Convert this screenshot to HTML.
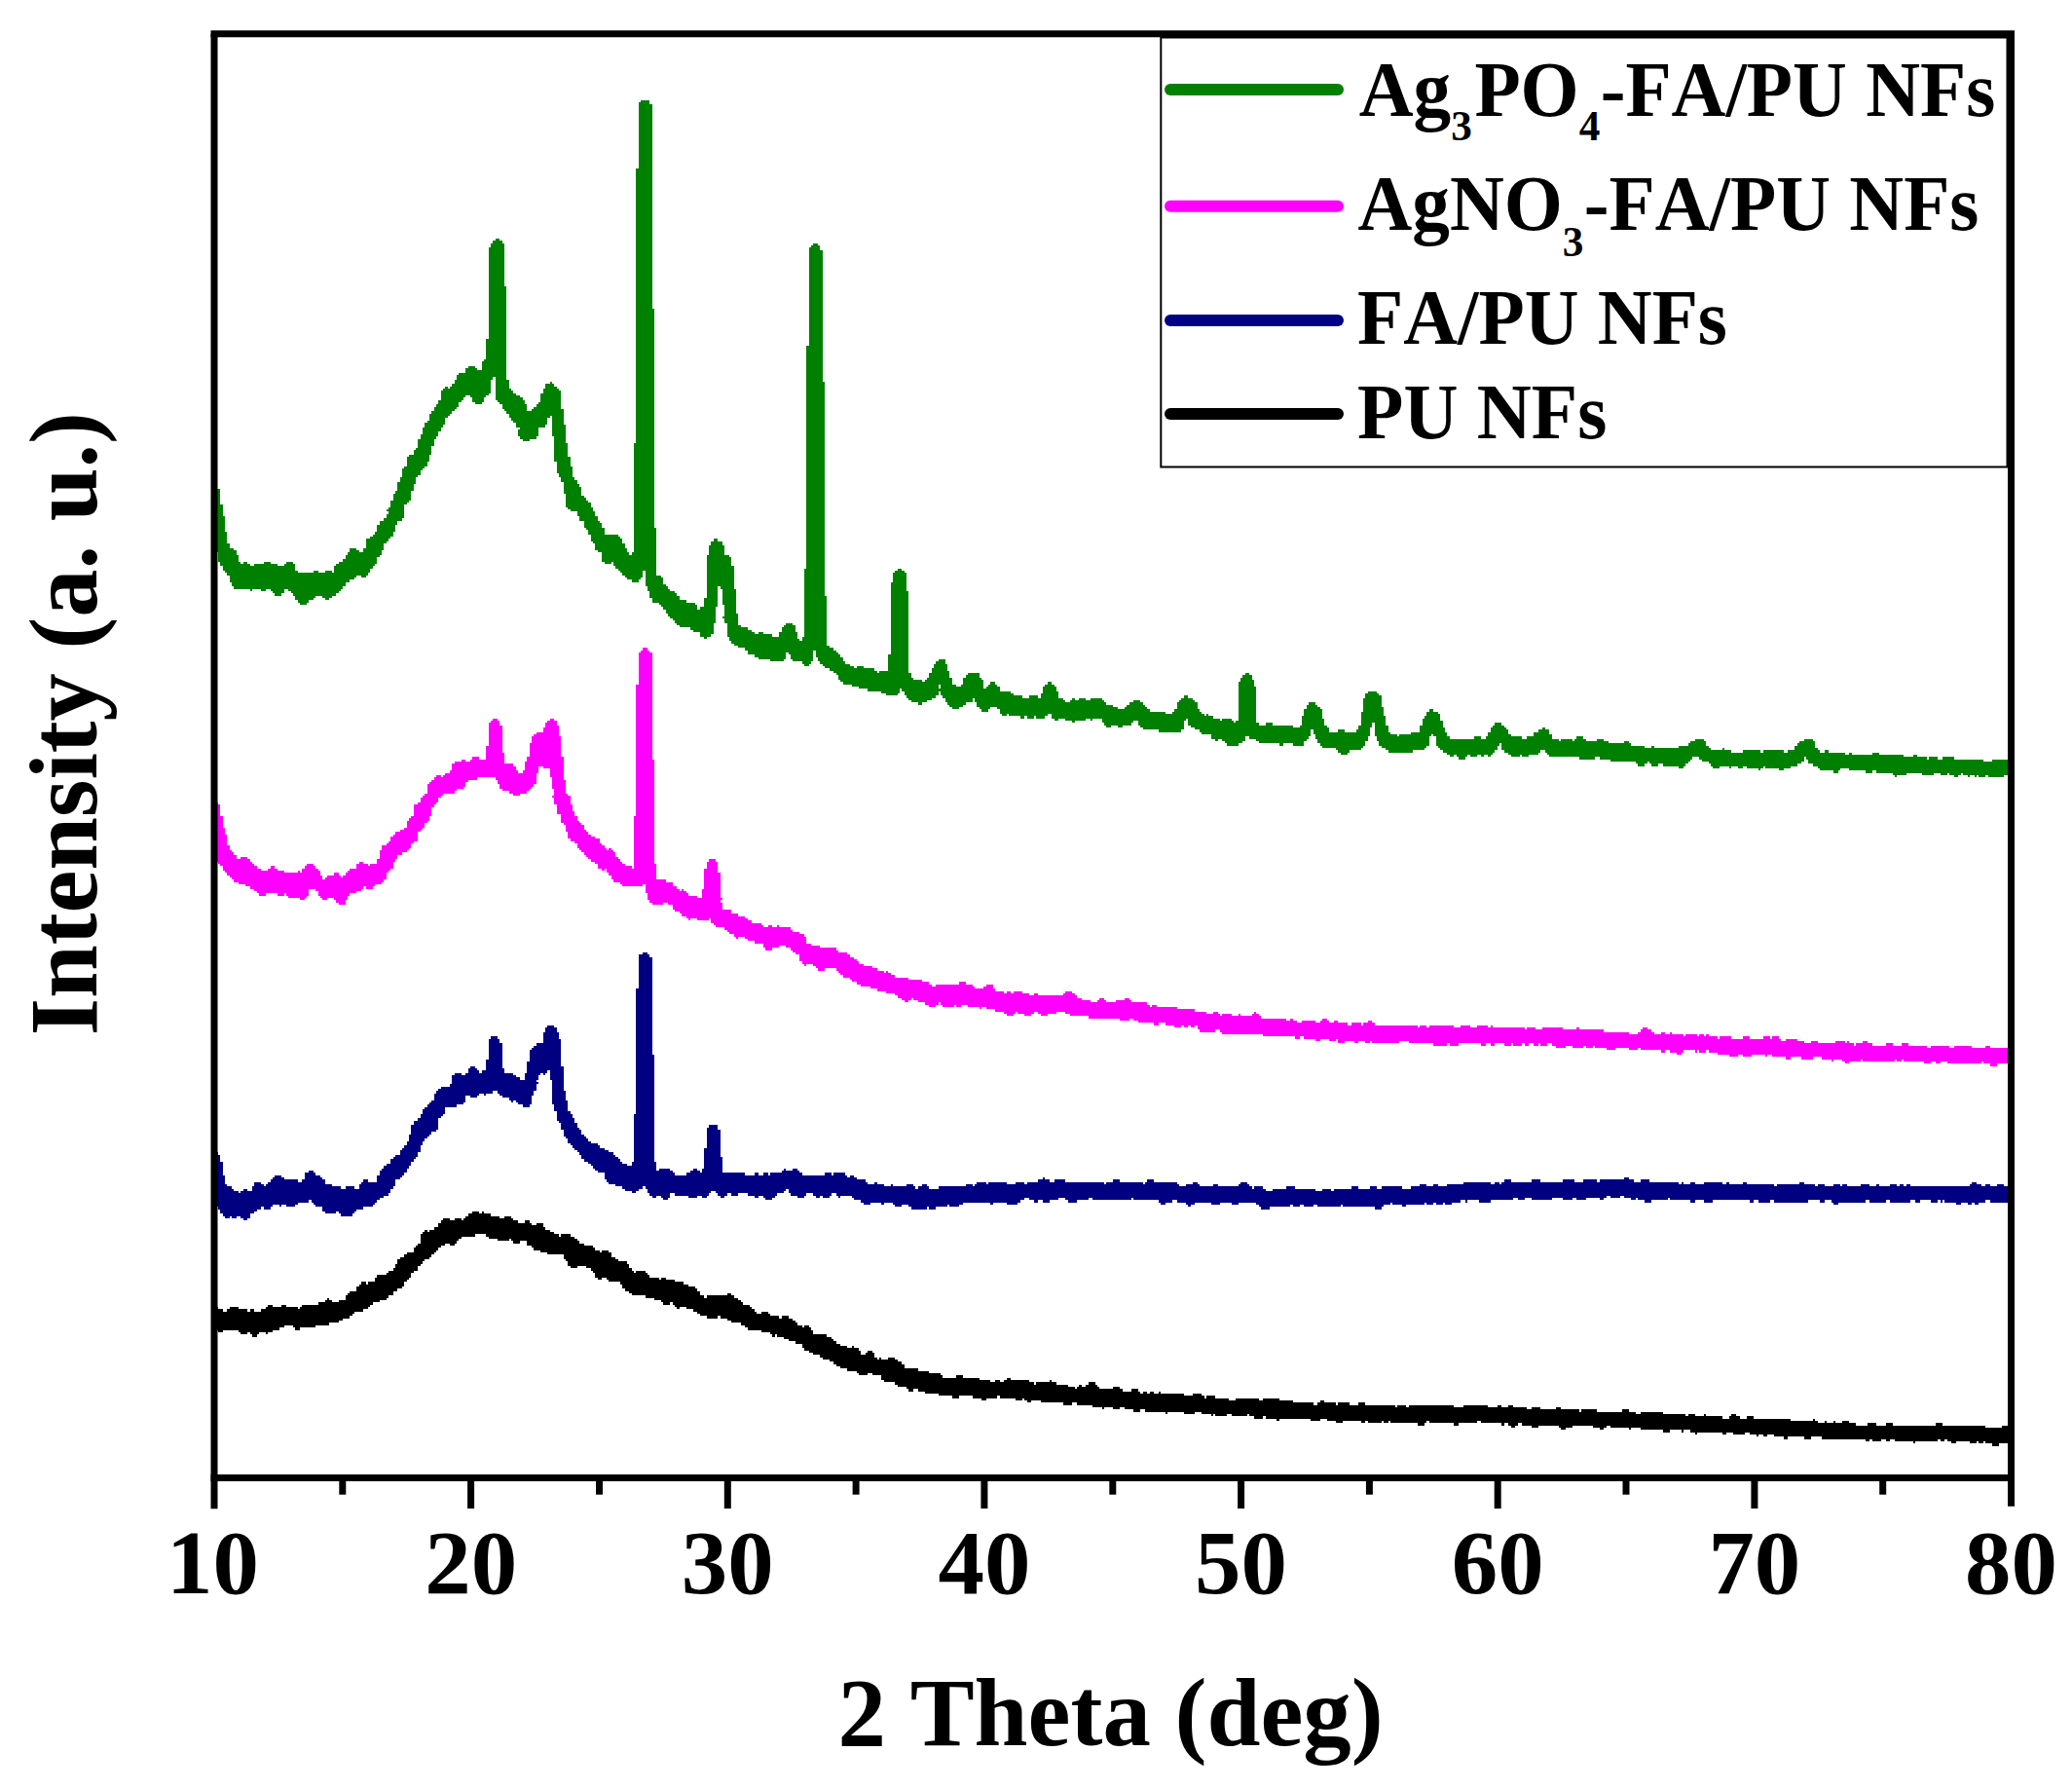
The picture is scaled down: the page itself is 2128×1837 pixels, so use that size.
<!DOCTYPE html>
<html lang="en">
<head>
<meta charset="utf-8">
<title>XRD patterns</title>
<style>
html,body{margin:0;padding:0;background:#fff;}
body{width:2128px;height:1837px;overflow:hidden;}
svg{display:block;}
text{font-family:"Liberation Serif","Times New Roman",serif;font-weight:bold;fill:#000;font-kerning:none;}
</style>
</head>
<body>
<svg width="2128" height="1837" viewBox="0 0 2128 1837">
<rect x="0" y="0" width="2128" height="1837" fill="#ffffff"/>
<defs><clipPath id="plot"><rect x="220.0" y="34.7" width="1845.5" height="1482.8"/></clipPath></defs>
<g clip-path="url(#plot)">
<path shape-rendering="crispEdges" fill="#000000" d="M212.33 1344.49H214.67V1363.16H212.33zM214.67 1342.15H217.00V1363.16H214.67zM217.00 1339.82H219.33V1363.16H217.00zM219.33 1339.82H221.67V1363.16H219.33zM221.67 1342.15H224.00V1365.50H221.67zM224.00 1344.49H226.33V1367.83H224.00zM226.33 1344.49H228.67V1367.83H226.33zM228.67 1346.82H231.00V1365.50H228.67zM231.00 1346.82H233.33V1365.50H231.00zM233.33 1344.49H235.67V1365.50H233.33zM235.67 1342.15H238.00V1365.50H235.67zM238.00 1342.15H240.33V1365.50H238.00zM240.33 1342.15H242.67V1365.50H240.33zM242.67 1342.15H245.00V1365.50H242.67zM245.00 1344.49H247.33V1367.83H245.00zM247.33 1344.49H249.67V1370.16H247.33zM249.67 1344.49H252.00V1370.16H249.67zM252.00 1344.49H254.33V1370.16H252.00zM254.33 1346.82H256.67V1367.83H254.33zM256.67 1344.49H259.00V1370.16H256.67zM259.00 1344.49H261.33V1372.50H259.00zM261.33 1346.82H263.67V1372.50H261.33zM263.67 1346.82H266.00V1370.16H263.67zM266.00 1346.82H268.33V1367.83H266.00zM268.33 1344.49H270.67V1367.83H268.33zM270.67 1344.49H273.00V1367.83H270.67zM273.00 1342.15H275.33V1370.16H273.00zM275.33 1339.82H277.67V1367.83H275.33zM277.67 1339.82H280.00V1367.83H277.67zM280.00 1342.15H282.33V1365.50H280.00zM282.33 1342.15H284.67V1365.50H282.33zM284.67 1342.15H287.00V1365.50H284.67zM287.00 1342.15H289.33V1363.16H287.00zM289.33 1339.82H291.67V1363.16H289.33zM291.67 1339.82H294.00V1360.83H291.67zM294.00 1342.15H296.33V1360.83H294.00zM296.33 1342.15H298.67V1360.83H296.33zM298.67 1342.15H301.00V1360.83H298.67zM301.00 1342.15H303.33V1363.16H301.00zM303.33 1342.15H305.67V1365.50H303.33zM305.67 1344.49H308.00V1365.50H305.67zM308.00 1342.15H310.33V1363.16H308.00zM310.33 1339.82H312.67V1363.16H310.33zM312.67 1339.82H315.00V1363.16H312.67zM315.00 1339.82H317.33V1363.16H315.00zM317.33 1339.82H319.67V1363.16H317.33zM319.67 1339.82H322.00V1363.16H319.67zM322.00 1339.82H324.33V1363.16H322.00zM324.33 1339.82H326.67V1360.83H324.33zM326.67 1337.49H329.00V1360.83H326.67zM329.00 1337.49H331.33V1360.83H329.00zM331.33 1337.49H333.67V1360.83H331.33zM333.67 1335.15H336.00V1360.83H333.67zM336.00 1332.82H338.33V1360.83H336.00zM338.33 1335.15H340.67V1358.49H338.33zM340.67 1337.49H343.00V1358.49H340.67zM343.00 1337.49H345.33V1358.49H343.00zM345.33 1337.49H347.67V1358.49H345.33zM347.67 1335.15H350.00V1356.16H347.67zM350.00 1335.15H352.33V1356.16H350.00zM352.33 1335.15H354.67V1353.82H352.33zM354.67 1330.48H357.00V1353.82H354.67zM357.00 1328.15H359.33V1353.82H357.00zM359.33 1325.81H361.67V1351.49H359.33zM361.67 1325.81H364.00V1349.16H361.67zM364.00 1325.81H366.33V1346.82H364.00zM366.33 1321.15H368.67V1346.82H366.33zM368.67 1318.81H371.00V1346.82H368.67zM371.00 1316.48H373.33V1346.82H371.00zM373.33 1316.48H375.67V1344.49H373.33zM375.67 1318.81H378.00V1344.49H375.67zM378.00 1316.48H380.33V1342.15H378.00zM380.33 1316.48H382.67V1339.82H380.33zM382.67 1316.48H385.00V1337.49H382.67zM385.00 1311.81H387.33V1337.49H385.00zM387.33 1309.48H389.67V1337.49H387.33zM389.67 1309.48H392.00V1335.15H389.67zM392.00 1309.48H394.33V1335.15H392.00zM394.33 1309.48H396.67V1335.15H394.33zM396.67 1307.14H399.00V1332.82H396.67zM399.00 1304.81H401.33V1330.48H399.00zM401.33 1304.81H403.67V1330.48H401.33zM403.67 1302.47H406.00V1325.81H403.67zM406.00 1297.80H408.33V1325.81H406.00zM408.33 1293.14H410.67V1323.48H408.33zM410.67 1290.80H413.00V1323.48H410.67zM413.00 1290.80H415.33V1321.15H413.00zM415.33 1288.47H417.67V1316.48H415.33zM417.67 1286.13H420.00V1314.14H417.67zM420.00 1286.13H422.33V1311.81H420.00zM422.33 1286.13H424.67V1307.14H422.33zM424.67 1281.47H427.00V1304.81H424.67zM427.00 1279.13H429.33V1304.81H427.00zM429.33 1276.80H431.67V1300.14H429.33zM431.67 1267.46H434.00V1297.80H431.67zM434.00 1265.13H436.33V1295.47H434.00zM436.33 1262.79H438.67V1293.14H436.33zM438.67 1265.13H441.00V1293.14H438.67zM441.00 1262.79H443.33V1290.80H441.00zM443.33 1262.79H445.67V1288.47H443.33zM445.67 1260.46H448.00V1286.13H445.67zM448.00 1260.46H450.33V1283.80H448.00zM450.33 1255.79H452.67V1281.47H450.33zM452.67 1253.45H455.00V1279.13H452.67zM455.00 1251.12H457.33V1279.13H455.00zM457.33 1251.12H459.67V1276.80H457.33zM459.67 1251.12H462.00V1276.80H459.67zM462.00 1253.45H464.33V1279.13H462.00zM464.33 1253.45H466.67V1279.13H464.33zM466.67 1251.12H469.00V1276.80H466.67zM469.00 1251.12H471.33V1274.46H469.00zM471.33 1251.12H473.67V1272.13H471.33zM473.67 1253.45H476.00V1269.79H473.67zM476.00 1251.12H478.33V1269.79H476.00zM478.33 1248.79H480.67V1269.79H478.33zM480.67 1246.45H483.00V1269.79H480.67zM483.00 1246.45H485.33V1269.79H483.00zM485.33 1244.12H487.67V1269.79H485.33zM487.67 1244.12H490.00V1267.46H487.67zM490.00 1244.12H492.33V1267.46H490.00zM492.33 1246.45H494.67V1267.46H492.33zM494.67 1244.12H497.00V1267.46H494.67zM497.00 1246.45H499.33V1267.46H497.00zM499.33 1246.45H501.67V1269.79H499.33zM501.67 1246.45H504.00V1272.13H501.67zM504.00 1248.79H506.33V1272.13H504.00zM506.33 1248.79H508.67V1272.13H506.33zM508.67 1248.79H511.00V1272.13H508.67zM511.00 1248.79H513.33V1274.46H511.00zM513.33 1251.12H515.67V1274.46H513.33zM515.67 1251.12H518.00V1274.46H515.67zM518.00 1248.79H520.33V1274.46H518.00zM520.33 1248.79H522.67V1274.46H520.33zM522.67 1248.79H525.00V1272.13H522.67zM525.00 1251.12H527.33V1274.46H525.00zM527.33 1253.45H529.67V1276.80H527.33zM529.67 1253.45H532.00V1276.80H529.67zM532.00 1255.79H534.33V1276.80H532.00zM534.33 1255.79H536.67V1274.46H534.33zM536.67 1255.79H539.00V1274.46H536.67zM539.00 1253.45H541.33V1274.46H539.00zM541.33 1253.45H543.67V1279.13H541.33zM543.67 1255.79H546.00V1279.13H543.67zM546.00 1258.12H548.33V1281.47H546.00zM548.33 1258.12H550.67V1283.80H548.33zM550.67 1255.79H553.00V1283.80H550.67zM553.00 1255.79H555.33V1283.80H553.00zM555.33 1255.79H557.67V1286.13H555.33zM557.67 1260.46H560.00V1286.13H557.67zM560.00 1262.79H562.33V1286.13H560.00zM562.33 1262.79H564.67V1288.47H562.33zM564.67 1265.13H567.00V1288.47H564.67zM567.00 1265.13H569.33V1288.47H567.00zM569.33 1267.46H571.67V1288.47H569.33zM571.67 1267.46H574.00V1288.47H571.67zM574.00 1269.79H576.33V1288.47H574.00zM576.33 1267.46H578.67V1288.47H576.33zM578.67 1267.46H581.00V1293.14H578.67zM581.00 1267.46H583.33V1295.47H581.00zM583.33 1267.46H585.67V1300.14H583.33zM585.67 1269.79H588.00V1302.47H585.67zM588.00 1269.79H590.33V1302.47H588.00zM590.33 1272.13H592.67V1302.47H590.33zM592.67 1274.46H595.00V1300.14H592.67zM595.00 1276.80H597.33V1300.14H595.00zM597.33 1276.80H599.67V1300.14H597.33zM599.67 1279.13H602.00V1300.14H599.67zM602.00 1279.13H604.33V1302.47H602.00zM604.33 1279.13H606.67V1302.47H604.33zM606.67 1279.13H609.00V1304.81H606.67zM609.00 1281.47H611.33V1307.14H609.00zM611.33 1283.80H613.67V1311.81H611.33zM613.67 1283.80H616.00V1314.14H613.67zM616.00 1286.13H618.33V1314.14H616.00zM618.33 1283.80H620.67V1311.81H618.33zM620.67 1283.80H623.00V1311.81H620.67zM623.00 1283.80H625.33V1314.14H623.00zM625.33 1286.13H627.67V1316.48H625.33zM627.67 1290.80H630.00V1316.48H627.67zM630.00 1290.80H632.33V1316.48H630.00zM632.33 1293.14H634.67V1316.48H632.33zM634.67 1295.47H637.00V1316.48H634.67zM637.00 1295.47H639.33V1318.81H637.00zM639.33 1295.47H641.67V1323.48H639.33zM641.67 1295.47H644.00V1325.81H641.67zM644.00 1297.80H646.33V1325.81H644.00zM646.33 1302.47H648.67V1328.15H646.33zM648.67 1304.81H651.00V1330.48H648.67zM651.00 1307.14H653.33V1330.48H651.00zM653.33 1304.81H655.67V1330.48H653.33zM655.67 1304.81H658.00V1330.48H655.67zM658.00 1304.81H660.33V1330.48H658.00zM660.33 1304.81H662.67V1330.48H660.33zM662.67 1307.14H665.00V1332.82H662.67zM665.00 1309.48H667.33V1332.82H665.00zM667.33 1311.81H669.67V1332.82H667.33zM669.67 1311.81H672.00V1332.82H669.67zM672.00 1311.81H674.33V1335.15H672.00zM674.33 1311.81H676.67V1335.15H674.33zM676.67 1314.14H679.00V1335.15H676.67zM679.00 1311.81H681.33V1337.49H679.00zM681.33 1311.81H683.67V1339.82H681.33zM683.67 1314.14H686.00V1339.82H683.67zM686.00 1314.14H688.33V1339.82H686.00zM688.33 1314.14H690.67V1337.49H688.33zM690.67 1314.14H693.00V1339.82H690.67zM693.00 1316.48H695.33V1342.15H693.00zM695.33 1316.48H697.67V1344.49H695.33zM697.67 1316.48H700.00V1342.15H697.67zM700.00 1316.48H702.33V1342.15H700.00zM702.33 1318.81H704.67V1342.15H702.33zM704.67 1318.81H707.00V1344.49H704.67zM707.00 1321.15H709.33V1344.49H707.00zM709.33 1321.15H711.67V1344.49H709.33zM711.67 1321.15H714.00V1346.82H711.67zM714.00 1323.48H716.33V1346.82H714.00zM716.33 1325.81H718.67V1349.16H716.33zM718.67 1330.48H721.00V1351.49H718.67zM721.00 1330.48H723.33V1351.49H721.00zM723.33 1332.82H725.67V1351.49H723.33zM725.67 1330.48H728.00V1353.82H725.67zM728.00 1330.48H730.33V1353.82H728.00zM730.33 1330.48H732.67V1353.82H730.33zM732.67 1330.48H735.00V1353.82H732.67zM735.00 1330.48H737.33V1353.82H735.00zM737.33 1330.48H739.67V1351.49H737.33zM739.67 1330.48H742.00V1353.82H739.67zM742.00 1330.48H744.33V1353.82H742.00zM744.33 1330.48H746.67V1353.82H744.33zM746.67 1328.15H749.00V1356.16H746.67zM749.00 1328.15H751.33V1356.16H749.00zM751.33 1330.48H753.67V1358.49H751.33zM753.67 1332.82H756.00V1358.49H753.67zM756.00 1332.82H758.33V1358.49H756.00zM758.33 1335.15H760.67V1358.49H758.33zM760.67 1337.49H763.00V1360.83H760.67zM763.00 1339.82H765.33V1360.83H763.00zM765.33 1339.82H767.67V1363.16H765.33zM767.67 1339.82H770.00V1365.50H767.67zM770.00 1342.15H772.33V1365.50H770.00zM772.33 1344.49H774.67V1365.50H772.33zM774.67 1346.82H777.00V1365.50H774.67zM777.00 1349.16H779.33V1365.50H777.00zM779.33 1349.16H781.67V1365.50H779.33zM781.67 1346.82H784.00V1367.83H781.67zM784.00 1346.82H786.33V1367.83H784.00zM786.33 1346.82H788.67V1367.83H786.33zM788.67 1349.16H791.00V1367.83H788.67zM791.00 1351.49H793.33V1370.16H791.00zM793.33 1351.49H795.67V1372.50H793.33zM795.67 1351.49H798.00V1370.16H795.67zM798.00 1351.49H800.33V1372.50H798.00zM800.33 1353.82H802.67V1372.50H800.33zM802.67 1351.49H805.00V1372.50H802.67zM805.00 1351.49H807.33V1374.83H805.00zM807.33 1351.49H809.67V1374.83H807.33zM809.67 1353.82H812.00V1377.17H809.67zM812.00 1353.82H814.33V1377.17H812.00zM814.33 1356.16H816.67V1377.17H814.33zM816.67 1358.49H819.00V1379.50H816.67zM819.00 1360.83H821.33V1379.50H819.00zM821.33 1360.83H823.67V1379.50H821.33zM823.67 1363.16H826.00V1384.17H823.67zM826.00 1360.83H828.33V1386.50H826.00zM828.33 1360.83H830.67V1386.50H828.33zM830.67 1363.16H833.00V1388.84H830.67zM833.00 1365.50H835.33V1388.84H833.00zM835.33 1370.16H837.67V1391.17H835.33zM837.67 1370.16H840.00V1391.17H837.67zM840.00 1370.16H842.33V1391.17H840.00zM842.33 1370.16H844.67V1393.51H842.33zM844.67 1370.16H847.00V1395.84H844.67zM847.00 1370.16H849.33V1395.84H847.00zM849.33 1372.50H851.67V1395.84H849.33zM851.67 1372.50H854.00V1398.17H851.67zM854.00 1374.83H856.33V1398.17H854.00zM856.33 1377.17H858.67V1400.51H856.33zM858.67 1379.50H861.00V1402.84H858.67zM861.00 1379.50H863.33V1402.84H861.00zM863.33 1381.83H865.67V1405.18H863.33zM865.67 1381.83H868.00V1405.18H865.67zM868.00 1381.83H870.33V1405.18H868.00zM870.33 1384.17H872.67V1407.51H870.33zM872.67 1384.17H875.00V1407.51H872.67zM875.00 1381.83H877.33V1407.51H875.00zM877.33 1384.17H879.67V1407.51H877.33zM879.67 1384.17H882.00V1409.84H879.67zM882.00 1386.50H884.33V1412.18H882.00zM884.33 1391.17H886.67V1412.18H884.33zM886.67 1391.17H889.00V1412.18H886.67zM889.00 1388.84H891.33V1412.18H889.00zM891.33 1386.50H893.67V1409.84H891.33zM893.67 1386.50H896.00V1409.84H893.67zM896.00 1388.84H898.33V1412.18H896.00zM898.33 1393.51H900.67V1412.18H898.33zM900.67 1395.84H903.00V1412.18H900.67zM903.00 1393.51H905.33V1412.18H903.00zM905.33 1395.84H907.67V1416.85H905.33zM907.67 1395.84H910.00V1419.18H907.67zM910.00 1395.84H912.33V1419.18H910.00zM912.33 1393.51H914.67V1419.18H912.33zM914.67 1393.51H917.00V1419.18H914.67zM917.00 1393.51H919.33V1419.18H917.00zM919.33 1395.84H921.67V1421.52H919.33zM921.67 1398.17H924.00V1423.85H921.67zM924.00 1398.17H926.33V1423.85H924.00zM926.33 1400.51H928.67V1423.85H926.33zM928.67 1405.18H931.00V1423.85H928.67zM931.00 1405.18H933.33V1426.18H931.00zM933.33 1405.18H935.67V1428.52H933.33zM935.67 1405.18H938.00V1428.52H935.67zM938.00 1405.18H940.33V1426.18H938.00zM940.33 1405.18H942.67V1426.18H940.33zM942.67 1407.51H945.00V1428.52H942.67zM945.00 1407.51H947.33V1428.52H945.00zM947.33 1407.51H949.67V1428.52H947.33zM949.67 1407.51H952.00V1430.85H949.67zM952.00 1407.51H954.33V1430.85H952.00zM954.33 1409.84H956.67V1430.85H954.33zM956.67 1409.84H959.00V1430.85H956.67zM959.00 1409.84H961.33V1430.85H959.00zM961.33 1409.84H963.67V1430.85H961.33zM963.67 1409.84H966.00V1433.19H963.67zM966.00 1412.18H968.33V1433.19H966.00zM968.33 1414.51H970.67V1433.19H968.33zM970.67 1414.51H973.00V1433.19H970.67zM973.00 1414.51H975.33V1433.19H973.00zM975.33 1414.51H977.67V1433.19H975.33zM977.67 1414.51H980.00V1435.52H977.67zM980.00 1414.51H982.33V1435.52H980.00zM982.33 1412.18H984.67V1435.52H982.33zM984.67 1412.18H987.00V1433.19H984.67zM987.00 1412.18H989.33V1433.19H987.00zM989.33 1414.51H991.67V1433.19H989.33zM991.67 1414.51H994.00V1433.19H991.67zM994.00 1414.51H996.33V1433.19H994.00zM996.33 1414.51H998.67V1433.19H996.33zM998.67 1414.51H1001.00V1435.52H998.67zM1001.00 1414.51H1003.33V1435.52H1001.00zM1003.33 1414.51H1005.67V1435.52H1003.33zM1005.67 1416.85H1008.00V1435.52H1005.67zM1008.00 1416.85H1010.33V1437.86H1008.00zM1010.33 1416.85H1012.67V1437.86H1010.33zM1012.67 1416.85H1015.00V1435.52H1012.67zM1015.00 1416.85H1017.33V1435.52H1015.00zM1017.33 1419.18H1019.67V1435.52H1017.33zM1019.67 1419.18H1022.00V1435.52H1019.67zM1022.00 1416.85H1024.33V1435.52H1022.00zM1024.33 1416.85H1026.67V1433.19H1024.33zM1026.67 1419.18H1029.00V1435.52H1026.67zM1029.00 1419.18H1031.33V1435.52H1029.00zM1031.33 1416.85H1033.67V1435.52H1031.33zM1033.67 1414.51H1036.00V1435.52H1033.67zM1036.00 1414.51H1038.33V1435.52H1036.00zM1038.33 1416.85H1040.67V1435.52H1038.33zM1040.67 1416.85H1043.00V1435.52H1040.67zM1043.00 1416.85H1045.33V1437.86H1043.00zM1045.33 1416.85H1047.67V1437.86H1045.33zM1047.67 1416.85H1050.00V1437.86H1047.67zM1050.00 1416.85H1052.33V1435.52H1050.00zM1052.33 1416.85H1054.67V1437.86H1052.33zM1054.67 1416.85H1057.00V1440.19H1054.67zM1057.00 1419.18H1059.33V1440.19H1057.00zM1059.33 1419.18H1061.67V1437.86H1059.33zM1061.67 1421.52H1064.00V1437.86H1061.67zM1064.00 1419.18H1066.33V1437.86H1064.00zM1066.33 1419.18H1068.67V1437.86H1066.33zM1068.67 1419.18H1071.00V1440.19H1068.67zM1071.00 1419.18H1073.33V1440.19H1071.00zM1073.33 1419.18H1075.67V1440.19H1073.33zM1075.67 1419.18H1078.00V1440.19H1075.67zM1078.00 1416.85H1080.33V1440.19H1078.00zM1080.33 1419.18H1082.67V1440.19H1080.33zM1082.67 1419.18H1085.00V1440.19H1082.67zM1085.00 1421.52H1087.33V1440.19H1085.00zM1087.33 1421.52H1089.67V1440.19H1087.33zM1089.67 1421.52H1092.00V1440.19H1089.67zM1092.00 1421.52H1094.33V1442.52H1092.00zM1094.33 1421.52H1096.67V1442.52H1094.33zM1096.67 1423.85H1099.00V1442.52H1096.67zM1099.00 1423.85H1101.33V1442.52H1099.00zM1101.33 1423.85H1103.67V1440.19H1101.33zM1103.67 1426.18H1106.00V1440.19H1103.67zM1106.00 1423.85H1108.33V1442.52H1106.00zM1108.33 1421.52H1110.67V1442.52H1108.33zM1110.67 1423.85H1113.00V1442.52H1110.67zM1113.00 1423.85H1115.33V1442.52H1113.00zM1115.33 1421.52H1117.67V1442.52H1115.33zM1117.67 1419.18H1120.00V1442.52H1117.67zM1120.00 1419.18H1122.33V1442.52H1120.00zM1122.33 1419.18H1124.67V1444.86H1122.33zM1124.67 1421.52H1127.00V1444.86H1124.67zM1127.00 1423.85H1129.33V1444.86H1127.00zM1129.33 1426.18H1131.67V1444.86H1129.33zM1131.67 1426.18H1134.00V1447.19H1131.67zM1134.00 1426.18H1136.33V1444.86H1134.00zM1136.33 1426.18H1138.67V1444.86H1136.33zM1138.67 1426.18H1141.00V1444.86H1138.67zM1141.00 1426.18H1143.33V1444.86H1141.00zM1143.33 1423.85H1145.67V1447.19H1143.33zM1145.67 1423.85H1148.00V1447.19H1145.67zM1148.00 1423.85H1150.33V1447.19H1148.00zM1150.33 1426.18H1152.67V1444.86H1150.33zM1152.67 1428.52H1155.00V1444.86H1152.67zM1155.00 1428.52H1157.33V1447.19H1155.00zM1157.33 1428.52H1159.67V1447.19H1157.33zM1159.67 1428.52H1162.00V1447.19H1159.67zM1162.00 1426.18H1164.33V1447.19H1162.00zM1164.33 1426.18H1166.67V1449.53H1164.33zM1166.67 1426.18H1169.00V1449.53H1166.67zM1169.00 1428.52H1171.33V1449.53H1169.00zM1171.33 1430.85H1173.67V1447.19H1171.33zM1173.67 1428.52H1176.00V1447.19H1173.67zM1176.00 1428.52H1178.33V1449.53H1176.00zM1178.33 1430.85H1180.67V1449.53H1178.33zM1180.67 1428.52H1183.00V1449.53H1180.67zM1183.00 1428.52H1185.33V1449.53H1183.00zM1185.33 1430.85H1187.67V1449.53H1185.33zM1187.67 1430.85H1190.00V1449.53H1187.67zM1190.00 1428.52H1192.33V1449.53H1190.00zM1192.33 1430.85H1194.67V1449.53H1192.33zM1194.67 1430.85H1197.00V1449.53H1194.67zM1197.00 1430.85H1199.33V1451.86H1197.00zM1199.33 1430.85H1201.67V1449.53H1199.33zM1201.67 1430.85H1204.00V1449.53H1201.67zM1204.00 1430.85H1206.33V1449.53H1204.00zM1206.33 1430.85H1208.67V1449.53H1206.33zM1208.67 1430.85H1211.00V1449.53H1208.67zM1211.00 1430.85H1213.33V1449.53H1211.00zM1213.33 1430.85H1215.67V1449.53H1213.33zM1215.67 1433.19H1218.00V1451.86H1215.67zM1218.00 1433.19H1220.33V1451.86H1218.00zM1220.33 1433.19H1222.67V1451.86H1220.33zM1222.67 1433.19H1225.00V1451.86H1222.67zM1225.00 1430.85H1227.33V1451.86H1225.00zM1227.33 1430.85H1229.67V1449.53H1227.33zM1229.67 1430.85H1232.00V1449.53H1229.67zM1232.00 1430.85H1234.33V1449.53H1232.00zM1234.33 1433.19H1236.67V1451.86H1234.33zM1236.67 1435.52H1239.00V1451.86H1236.67zM1239.00 1433.19H1241.33V1451.86H1239.00zM1241.33 1433.19H1243.67V1451.86H1241.33zM1243.67 1433.19H1246.00V1454.19H1243.67zM1246.00 1433.19H1248.33V1451.86H1246.00zM1248.33 1435.52H1250.67V1454.19H1248.33zM1250.67 1435.52H1253.00V1454.19H1250.67zM1253.00 1435.52H1255.33V1454.19H1253.00zM1255.33 1435.52H1257.67V1454.19H1255.33zM1257.67 1435.52H1260.00V1454.19H1257.67zM1260.00 1435.52H1262.33V1451.86H1260.00zM1262.33 1437.86H1264.67V1451.86H1262.33zM1264.67 1437.86H1267.00V1454.19H1264.67zM1267.00 1437.86H1269.33V1454.19H1267.00zM1269.33 1435.52H1271.67V1454.19H1269.33zM1271.67 1435.52H1274.00V1454.19H1271.67zM1274.00 1435.52H1276.33V1454.19H1274.00zM1276.33 1435.52H1278.67V1454.19H1276.33zM1278.67 1435.52H1281.00V1454.19H1278.67zM1281.00 1435.52H1283.33V1451.86H1281.00zM1283.33 1435.52H1285.67V1454.19H1283.33zM1285.67 1435.52H1288.00V1454.19H1285.67zM1288.00 1435.52H1290.33V1456.53H1288.00zM1290.33 1435.52H1292.67V1456.53H1290.33zM1292.67 1437.86H1295.00V1456.53H1292.67zM1295.00 1437.86H1297.33V1456.53H1295.00zM1297.33 1435.52H1299.67V1454.19H1297.33zM1299.67 1435.52H1302.00V1456.53H1299.67zM1302.00 1435.52H1304.33V1456.53H1302.00zM1304.33 1435.52H1306.67V1456.53H1304.33zM1306.67 1435.52H1309.00V1456.53H1306.67zM1309.00 1435.52H1311.33V1456.53H1309.00zM1311.33 1435.52H1313.67V1458.86H1311.33zM1313.67 1437.86H1316.00V1456.53H1313.67zM1316.00 1437.86H1318.33V1456.53H1316.00zM1318.33 1437.86H1320.67V1456.53H1318.33zM1320.67 1437.86H1323.00V1456.53H1320.67zM1323.00 1437.86H1325.33V1456.53H1323.00zM1325.33 1437.86H1327.67V1456.53H1325.33zM1327.67 1440.19H1330.00V1456.53H1327.67zM1330.00 1440.19H1332.33V1456.53H1330.00zM1332.33 1440.19H1334.67V1456.53H1332.33zM1334.67 1440.19H1337.00V1456.53H1334.67zM1337.00 1440.19H1339.33V1456.53H1337.00zM1339.33 1440.19H1341.67V1456.53H1339.33zM1341.67 1440.19H1344.00V1456.53H1341.67zM1344.00 1440.19H1346.33V1456.53H1344.00zM1346.33 1440.19H1348.67V1458.86H1346.33zM1348.67 1442.52H1351.00V1458.86H1348.67zM1351.00 1442.52H1353.33V1458.86H1351.00zM1353.33 1440.19H1355.67V1458.86H1353.33zM1355.67 1437.86H1358.00V1456.53H1355.67zM1358.00 1437.86H1360.33V1456.53H1358.00zM1360.33 1440.19H1362.67V1456.53H1360.33zM1362.67 1440.19H1365.00V1458.86H1362.67zM1365.00 1440.19H1367.33V1458.86H1365.00zM1367.33 1440.19H1369.67V1458.86H1367.33zM1369.67 1440.19H1372.00V1458.86H1369.67zM1372.00 1442.52H1374.33V1461.20H1372.00zM1374.33 1440.19H1376.67V1461.20H1374.33zM1376.67 1440.19H1379.00V1461.20H1376.67zM1379.00 1440.19H1381.33V1458.86H1379.00zM1381.33 1440.19H1383.67V1458.86H1381.33zM1383.67 1440.19H1386.00V1458.86H1383.67zM1386.00 1442.52H1388.33V1458.86H1386.00zM1388.33 1442.52H1390.67V1458.86H1388.33zM1390.67 1442.52H1393.00V1458.86H1390.67zM1393.00 1442.52H1395.33V1458.86H1393.00zM1395.33 1440.19H1397.67V1458.86H1395.33zM1397.67 1440.19H1400.00V1461.20H1397.67zM1400.00 1440.19H1402.33V1461.20H1400.00zM1402.33 1442.52H1404.67V1458.86H1402.33zM1404.67 1442.52H1407.00V1461.20H1404.67zM1407.00 1442.52H1409.33V1461.20H1407.00zM1409.33 1442.52H1411.67V1461.20H1409.33zM1411.67 1442.52H1414.00V1461.20H1411.67zM1414.00 1442.52H1416.33V1461.20H1414.00zM1416.33 1442.52H1418.67V1461.20H1416.33zM1418.67 1442.52H1421.00V1458.86H1418.67zM1421.00 1442.52H1423.33V1461.20H1421.00zM1423.33 1442.52H1425.67V1461.20H1423.33zM1425.67 1442.52H1428.00V1458.86H1425.67zM1428.00 1442.52H1430.33V1461.20H1428.00zM1430.33 1442.52H1432.67V1461.20H1430.33zM1432.67 1444.86H1435.00V1461.20H1432.67zM1435.00 1442.52H1437.33V1461.20H1435.00zM1437.33 1442.52H1439.67V1461.20H1437.33zM1439.67 1442.52H1442.00V1461.20H1439.67zM1442.00 1442.52H1444.33V1461.20H1442.00zM1444.33 1444.86H1446.67V1461.20H1444.33zM1446.67 1442.52H1449.00V1461.20H1446.67zM1449.00 1442.52H1451.33V1461.20H1449.00zM1451.33 1442.52H1453.67V1461.20H1451.33zM1453.67 1442.52H1456.00V1461.20H1453.67zM1456.00 1442.52H1458.33V1463.53H1456.00zM1458.33 1442.52H1460.67V1463.53H1458.33zM1460.67 1442.52H1463.00V1463.53H1460.67zM1463.00 1442.52H1465.33V1461.20H1463.00zM1465.33 1442.52H1467.67V1458.86H1465.33zM1467.67 1442.52H1470.00V1461.20H1467.67zM1470.00 1442.52H1472.33V1461.20H1470.00zM1472.33 1442.52H1474.67V1461.20H1472.33zM1474.67 1442.52H1477.00V1461.20H1474.67zM1477.00 1442.52H1479.33V1461.20H1477.00zM1479.33 1442.52H1481.67V1461.20H1479.33zM1481.67 1442.52H1484.00V1461.20H1481.67zM1484.00 1442.52H1486.33V1461.20H1484.00zM1486.33 1442.52H1488.67V1461.20H1486.33zM1488.67 1442.52H1491.00V1461.20H1488.67zM1491.00 1442.52H1493.33V1461.20H1491.00zM1493.33 1444.86H1495.67V1463.53H1493.33zM1495.67 1444.86H1498.00V1463.53H1495.67zM1498.00 1444.86H1500.33V1461.20H1498.00zM1500.33 1444.86H1502.67V1461.20H1500.33zM1502.67 1442.52H1505.00V1461.20H1502.67zM1505.00 1442.52H1507.33V1461.20H1505.00zM1507.33 1442.52H1509.67V1461.20H1507.33zM1509.67 1442.52H1512.00V1461.20H1509.67zM1512.00 1442.52H1514.33V1461.20H1512.00zM1514.33 1442.52H1516.67V1461.20H1514.33zM1516.67 1442.52H1519.00V1458.86H1516.67zM1519.00 1442.52H1521.33V1458.86H1519.00zM1521.33 1442.52H1523.67V1461.20H1521.33zM1523.67 1442.52H1526.00V1461.20H1523.67zM1526.00 1442.52H1528.33V1461.20H1526.00zM1528.33 1444.86H1530.67V1461.20H1528.33zM1530.67 1444.86H1533.00V1461.20H1530.67zM1533.00 1444.86H1535.33V1461.20H1533.00zM1535.33 1444.86H1537.67V1461.20H1535.33zM1537.67 1442.52H1540.00V1461.20H1537.67zM1540.00 1442.52H1542.33V1461.20H1540.00zM1542.33 1444.86H1544.67V1463.53H1542.33zM1544.67 1444.86H1547.00V1461.20H1544.67zM1547.00 1444.86H1549.33V1461.20H1547.00zM1549.33 1442.52H1551.67V1463.53H1549.33zM1551.67 1442.52H1554.00V1465.87H1551.67zM1554.00 1444.86H1556.33V1465.87H1554.00zM1556.33 1444.86H1558.67V1463.53H1556.33zM1558.67 1444.86H1561.00V1461.20H1558.67zM1561.00 1444.86H1563.33V1461.20H1561.00zM1563.33 1444.86H1565.67V1463.53H1563.33zM1565.67 1444.86H1568.00V1463.53H1565.67zM1568.00 1447.19H1570.33V1463.53H1568.00zM1570.33 1447.19H1572.67V1463.53H1570.33zM1572.67 1444.86H1575.00V1465.87H1572.67zM1575.00 1444.86H1577.33V1465.87H1575.00zM1577.33 1444.86H1579.67V1465.87H1577.33zM1579.67 1444.86H1582.00V1463.53H1579.67zM1582.00 1447.19H1584.33V1463.53H1582.00zM1584.33 1447.19H1586.67V1463.53H1584.33zM1586.67 1447.19H1589.00V1463.53H1586.67zM1589.00 1447.19H1591.33V1463.53H1589.00zM1591.33 1447.19H1593.67V1463.53H1591.33zM1593.67 1447.19H1596.00V1463.53H1593.67zM1596.00 1447.19H1598.33V1463.53H1596.00zM1598.33 1444.86H1600.67V1463.53H1598.33zM1600.67 1444.86H1603.00V1465.87H1600.67zM1603.00 1447.19H1605.33V1468.20H1603.00zM1605.33 1447.19H1607.67V1468.20H1605.33zM1607.67 1447.19H1610.00V1465.87H1607.67zM1610.00 1447.19H1612.33V1465.87H1610.00zM1612.33 1447.19H1614.67V1465.87H1612.33zM1614.67 1447.19H1617.00V1463.53H1614.67zM1617.00 1447.19H1619.33V1463.53H1617.00zM1619.33 1447.19H1621.67V1463.53H1619.33zM1621.67 1449.53H1624.00V1463.53H1621.67zM1624.00 1447.19H1626.33V1463.53H1624.00zM1626.33 1447.19H1628.67V1463.53H1626.33zM1628.67 1447.19H1631.00V1463.53H1628.67zM1631.00 1447.19H1633.33V1463.53H1631.00zM1633.33 1447.19H1635.67V1463.53H1633.33zM1635.67 1447.19H1638.00V1465.87H1635.67zM1638.00 1447.19H1640.33V1465.87H1638.00zM1640.33 1449.53H1642.67V1465.87H1640.33zM1642.67 1449.53H1645.00V1468.20H1642.67zM1645.00 1449.53H1647.33V1468.20H1645.00zM1647.33 1449.53H1649.67V1465.87H1647.33zM1649.67 1449.53H1652.00V1463.53H1649.67zM1652.00 1449.53H1654.33V1463.53H1652.00zM1654.33 1449.53H1656.67V1465.87H1654.33zM1656.67 1449.53H1659.00V1465.87H1656.67zM1659.00 1449.53H1661.33V1465.87H1659.00zM1661.33 1449.53H1663.67V1465.87H1661.33zM1663.67 1449.53H1666.00V1465.87H1663.67zM1666.00 1447.19H1668.33V1465.87H1666.00zM1668.33 1447.19H1670.67V1465.87H1668.33zM1670.67 1447.19H1673.00V1465.87H1670.67zM1673.00 1449.53H1675.33V1468.20H1673.00zM1675.33 1449.53H1677.67V1465.87H1675.33zM1677.67 1449.53H1680.00V1465.87H1677.67zM1680.00 1451.86H1682.33V1465.87H1680.00zM1682.33 1451.86H1684.67V1465.87H1682.33zM1684.67 1449.53H1687.00V1468.20H1684.67zM1687.00 1449.53H1689.33V1468.20H1687.00zM1689.33 1449.53H1691.67V1468.20H1689.33zM1691.67 1449.53H1694.00V1468.20H1691.67zM1694.00 1449.53H1696.33V1468.20H1694.00zM1696.33 1449.53H1698.67V1468.20H1696.33zM1698.67 1449.53H1701.00V1468.20H1698.67zM1701.00 1449.53H1703.33V1468.20H1701.00zM1703.33 1449.53H1705.67V1468.20H1703.33zM1705.67 1449.53H1708.00V1468.20H1705.67zM1708.00 1451.86H1710.33V1470.53H1708.00zM1710.33 1451.86H1712.67V1470.53H1710.33zM1712.67 1451.86H1715.00V1470.53H1712.67zM1715.00 1451.86H1717.33V1468.20H1715.00zM1717.33 1451.86H1719.67V1468.20H1717.33zM1719.67 1451.86H1722.00V1468.20H1719.67zM1722.00 1451.86H1724.33V1468.20H1722.00zM1724.33 1451.86H1726.67V1468.20H1724.33zM1726.67 1451.86H1729.00V1470.53H1726.67zM1729.00 1451.86H1731.33V1468.20H1729.00zM1731.33 1454.19H1733.67V1468.20H1731.33zM1733.67 1451.86H1736.00V1468.20H1733.67zM1736.00 1451.86H1738.33V1470.53H1736.00zM1738.33 1451.86H1740.67V1470.53H1738.33zM1740.67 1454.19H1743.00V1472.87H1740.67zM1743.00 1454.19H1745.33V1470.53H1743.00zM1745.33 1454.19H1747.67V1470.53H1745.33zM1747.67 1454.19H1750.00V1470.53H1747.67zM1750.00 1451.86H1752.33V1470.53H1750.00zM1752.33 1454.19H1754.67V1470.53H1752.33zM1754.67 1454.19H1757.00V1470.53H1754.67zM1757.00 1454.19H1759.33V1470.53H1757.00zM1759.33 1454.19H1761.67V1470.53H1759.33zM1761.67 1454.19H1764.00V1470.53H1761.67zM1764.00 1454.19H1766.33V1470.53H1764.00zM1766.33 1454.19H1768.67V1470.53H1766.33zM1768.67 1456.53H1771.00V1472.87H1768.67zM1771.00 1456.53H1773.33V1472.87H1771.00zM1773.33 1456.53H1775.67V1470.53H1773.33zM1775.67 1454.19H1778.00V1470.53H1775.67zM1778.00 1451.86H1780.33V1470.53H1778.00zM1780.33 1451.86H1782.67V1472.87H1780.33zM1782.67 1454.19H1785.00V1472.87H1782.67zM1785.00 1454.19H1787.33V1472.87H1785.00zM1787.33 1456.53H1789.67V1472.87H1787.33zM1789.67 1456.53H1792.00V1472.87H1789.67zM1792.00 1456.53H1794.33V1470.53H1792.00zM1794.33 1454.19H1796.67V1470.53H1794.33zM1796.67 1454.19H1799.00V1472.87H1796.67zM1799.00 1454.19H1801.33V1472.87H1799.00zM1801.33 1456.53H1803.67V1472.87H1801.33zM1803.67 1456.53H1806.00V1475.20H1803.67zM1806.00 1456.53H1808.33V1472.87H1806.00zM1808.33 1456.53H1810.67V1472.87H1808.33zM1810.67 1456.53H1813.00V1475.20H1810.67zM1813.00 1456.53H1815.33V1475.20H1813.00zM1815.33 1456.53H1817.67V1472.87H1815.33zM1817.67 1456.53H1820.00V1472.87H1817.67zM1820.00 1456.53H1822.33V1472.87H1820.00zM1822.33 1456.53H1824.67V1475.20H1822.33zM1824.67 1456.53H1827.00V1475.20H1824.67zM1827.00 1456.53H1829.33V1475.20H1827.00zM1829.33 1456.53H1831.67V1475.20H1829.33zM1831.67 1456.53H1834.00V1477.54H1831.67zM1834.00 1456.53H1836.33V1477.54H1834.00zM1836.33 1456.53H1838.67V1475.20H1836.33zM1838.67 1458.86H1841.00V1475.20H1838.67zM1841.00 1458.86H1843.33V1475.20H1841.00zM1843.33 1458.86H1845.67V1475.20H1843.33zM1845.67 1458.86H1848.00V1475.20H1845.67zM1848.00 1458.86H1850.33V1475.20H1848.00zM1850.33 1458.86H1852.67V1475.20H1850.33zM1852.67 1458.86H1855.00V1477.54H1852.67zM1855.00 1458.86H1857.33V1477.54H1855.00zM1857.33 1458.86H1859.67V1477.54H1857.33zM1859.67 1458.86H1862.00V1475.20H1859.67zM1862.00 1456.53H1864.33V1475.20H1862.00zM1864.33 1458.86H1866.67V1475.20H1864.33zM1866.67 1461.20H1869.00V1475.20H1866.67zM1869.00 1461.20H1871.33V1475.20H1869.00zM1871.33 1461.20H1873.67V1477.54H1871.33zM1873.67 1458.86H1876.00V1477.54H1873.67zM1876.00 1461.20H1878.33V1477.54H1876.00zM1878.33 1461.20H1880.67V1477.54H1878.33zM1880.67 1461.20H1883.00V1477.54H1880.67zM1883.00 1458.86H1885.33V1477.54H1883.00zM1885.33 1461.20H1887.67V1477.54H1885.33zM1887.67 1461.20H1890.00V1477.54H1887.67zM1890.00 1461.20H1892.33V1477.54H1890.00zM1892.33 1458.86H1894.67V1477.54H1892.33zM1894.67 1458.86H1897.00V1477.54H1894.67zM1897.00 1458.86H1899.33V1477.54H1897.00zM1899.33 1461.20H1901.67V1477.54H1899.33zM1901.67 1461.20H1904.00V1477.54H1901.67zM1904.00 1461.20H1906.33V1477.54H1904.00zM1906.33 1463.53H1908.67V1477.54H1906.33zM1908.67 1463.53H1911.00V1477.54H1908.67zM1911.00 1463.53H1913.33V1477.54H1911.00zM1913.33 1463.53H1915.67V1477.54H1913.33zM1915.67 1463.53H1918.00V1479.87H1915.67zM1918.00 1461.20H1920.33V1479.87H1918.00zM1920.33 1461.20H1922.67V1477.54H1920.33zM1922.67 1461.20H1925.00V1479.87H1922.67zM1925.00 1461.20H1927.33V1479.87H1925.00zM1927.33 1463.53H1929.67V1479.87H1927.33zM1929.67 1463.53H1932.00V1479.87H1929.67zM1932.00 1463.53H1934.33V1477.54H1932.00zM1934.33 1463.53H1936.67V1477.54H1934.33zM1936.67 1461.20H1939.00V1479.87H1936.67zM1939.00 1461.20H1941.33V1479.87H1939.00zM1941.33 1461.20H1943.67V1477.54H1941.33zM1943.67 1463.53H1946.00V1477.54H1943.67zM1946.00 1463.53H1948.33V1479.87H1946.00zM1948.33 1463.53H1950.67V1479.87H1948.33zM1950.67 1463.53H1953.00V1479.87H1950.67zM1953.00 1463.53H1955.33V1479.87H1953.00zM1955.33 1463.53H1957.67V1479.87H1955.33zM1957.67 1463.53H1960.00V1479.87H1957.67zM1960.00 1463.53H1962.33V1479.87H1960.00zM1962.33 1463.53H1964.67V1479.87H1962.33zM1964.67 1463.53H1967.00V1482.20H1964.67zM1967.00 1463.53H1969.33V1479.87H1967.00zM1969.33 1463.53H1971.67V1479.87H1969.33zM1971.67 1463.53H1974.00V1479.87H1971.67zM1974.00 1463.53H1976.33V1479.87H1974.00zM1976.33 1463.53H1978.67V1479.87H1976.33zM1978.67 1463.53H1981.00V1479.87H1978.67zM1981.00 1463.53H1983.33V1479.87H1981.00zM1983.33 1463.53H1985.67V1479.87H1983.33zM1985.67 1463.53H1988.00V1479.87H1985.67zM1988.00 1461.20H1990.33V1479.87H1988.00zM1990.33 1461.20H1992.67V1477.54H1990.33zM1992.67 1461.20H1995.00V1479.87H1992.67zM1995.00 1463.53H1997.33V1479.87H1995.00zM1997.33 1463.53H1999.67V1477.54H1997.33zM1999.67 1463.53H2002.00V1479.87H1999.67zM2002.00 1463.53H2004.33V1479.87H2002.00zM2004.33 1463.53H2006.67V1482.20H2004.33zM2006.67 1463.53H2009.00V1482.20H2006.67zM2009.00 1463.53H2011.33V1479.87H2009.00zM2011.33 1463.53H2013.67V1479.87H2011.33zM2013.67 1463.53H2016.00V1479.87H2013.67zM2016.00 1463.53H2018.33V1479.87H2016.00zM2018.33 1463.53H2020.67V1479.87H2018.33zM2020.67 1463.53H2023.00V1479.87H2020.67zM2023.00 1463.53H2025.33V1482.20H2023.00zM2025.33 1463.53H2027.67V1482.20H2025.33zM2027.67 1463.53H2030.00V1482.20H2027.67zM2030.00 1463.53H2032.33V1479.87H2030.00zM2032.33 1463.53H2034.67V1482.20H2032.33zM2034.67 1463.53H2037.00V1482.20H2034.67zM2037.00 1463.53H2039.33V1479.87H2037.00zM2039.33 1465.87H2041.67V1482.20H2039.33zM2041.67 1465.87H2044.00V1482.20H2041.67zM2044.00 1465.87H2046.33V1482.20H2044.00zM2046.33 1465.87H2048.67V1484.54H2046.33zM2048.67 1465.87H2051.00V1484.54H2048.67zM2051.00 1465.87H2053.33V1484.54H2051.00zM2053.33 1465.87H2055.67V1482.20H2053.33zM2055.67 1463.53H2058.00V1482.20H2055.67zM2058.00 1463.53H2060.33V1482.20H2058.00zM2060.33 1463.53H2062.67V1482.20H2060.33zM2062.67 1465.87H2065.00V1482.20H2062.67zM2065.00 1465.87H2067.33V1482.20H2065.00zM2067.33 1468.20H2069.67V1479.87H2067.33zM2069.67 1472.87H2072.00V1475.20H2069.67z"/>
<path shape-rendering="crispEdges" fill="#000080" d="M212.33 1183.43H214.67V1197.43H212.33zM214.67 1181.10H217.00V1204.44H214.67zM217.00 1178.76H219.33V1213.77H217.00zM219.33 1181.10H221.67V1230.11H219.33zM221.67 1183.43H224.00V1239.45H221.67zM224.00 1185.76H226.33V1241.78H224.00zM226.33 1192.77H228.67V1246.45H226.33zM228.67 1206.77H231.00V1248.79H228.67zM231.00 1216.11H233.33V1251.12H231.00zM233.33 1218.44H235.67V1251.12H233.33zM235.67 1218.44H238.00V1248.79H235.67zM238.00 1220.78H240.33V1251.12H238.00zM240.33 1223.11H242.67V1251.12H240.33zM242.67 1223.11H245.00V1248.79H242.67zM245.00 1225.44H247.33V1248.79H245.00zM247.33 1223.11H249.67V1251.12H247.33zM249.67 1220.78H252.00V1253.45H249.67zM252.00 1220.78H254.33V1253.45H252.00zM254.33 1223.11H256.67V1251.12H254.33zM256.67 1223.11H259.00V1246.45H256.67zM259.00 1218.44H261.33V1246.45H259.00zM261.33 1213.77H263.67V1244.12H261.33zM263.67 1213.77H266.00V1241.78H263.67zM266.00 1213.77H268.33V1241.78H266.00zM268.33 1216.11H270.67V1239.45H268.33zM270.67 1218.44H273.00V1241.78H270.67zM273.00 1216.11H275.33V1241.78H273.00zM275.33 1213.77H277.67V1241.78H275.33zM277.67 1211.44H280.00V1239.45H277.67zM280.00 1209.11H282.33V1237.12H280.00zM282.33 1206.77H284.67V1237.12H282.33zM284.67 1206.77H287.00V1237.12H284.67zM287.00 1206.77H289.33V1239.45H287.00zM289.33 1209.11H291.67V1237.12H289.33zM291.67 1211.44H294.00V1237.12H291.67zM294.00 1211.44H296.33V1239.45H294.00zM296.33 1211.44H298.67V1239.45H296.33zM298.67 1211.44H301.00V1239.45H298.67zM301.00 1211.44H303.33V1239.45H301.00zM303.33 1211.44H305.67V1237.12H303.33zM305.67 1213.77H308.00V1234.78H305.67zM308.00 1213.77H310.33V1234.78H308.00zM310.33 1211.44H312.67V1234.78H310.33zM312.67 1204.44H315.00V1234.78H312.67zM315.00 1204.44H317.33V1234.78H315.00zM317.33 1202.10H319.67V1232.45H317.33zM319.67 1202.10H322.00V1234.78H319.67zM322.00 1204.44H324.33V1237.12H322.00zM324.33 1206.77H326.67V1239.45H324.33zM326.67 1206.77H329.00V1239.45H326.67zM329.00 1209.11H331.33V1239.45H329.00zM331.33 1211.44H333.67V1244.12H331.33zM333.67 1216.11H336.00V1246.45H333.67zM336.00 1216.11H338.33V1246.45H336.00zM338.33 1216.11H340.67V1246.45H338.33zM340.67 1218.44H343.00V1246.45H340.67zM343.00 1218.44H345.33V1246.45H343.00zM345.33 1218.44H347.67V1244.12H345.33zM347.67 1218.44H350.00V1246.45H347.67zM350.00 1220.78H352.33V1248.79H350.00zM352.33 1220.78H354.67V1248.79H352.33zM354.67 1218.44H357.00V1248.79H354.67zM357.00 1218.44H359.33V1248.79H357.00zM359.33 1218.44H361.67V1248.79H359.33zM361.67 1218.44H364.00V1246.45H361.67zM364.00 1220.78H366.33V1244.12H364.00zM366.33 1220.78H368.67V1241.78H366.33zM368.67 1216.11H371.00V1241.78H368.67zM371.00 1213.77H373.33V1241.78H371.00zM373.33 1211.44H375.67V1239.45H373.33zM375.67 1211.44H378.00V1239.45H375.67zM378.00 1213.77H380.33V1239.45H378.00zM380.33 1213.77H382.67V1239.45H380.33zM382.67 1213.77H385.00V1237.12H382.67zM385.00 1213.77H387.33V1234.78H385.00zM387.33 1206.77H389.67V1232.45H387.33zM389.67 1202.10H392.00V1230.11H389.67zM392.00 1199.77H394.33V1230.11H392.00zM394.33 1197.43H396.67V1227.78H394.33zM396.67 1195.10H399.00V1227.78H396.67zM399.00 1195.10H401.33V1225.44H399.00zM401.33 1190.43H403.67V1220.78H401.33zM403.67 1188.10H406.00V1218.44H403.67zM406.00 1185.76H408.33V1211.44H406.00zM408.33 1185.76H410.67V1211.44H408.33zM410.67 1181.10H413.00V1209.11H410.67zM413.00 1178.76H415.33V1206.77H413.00zM415.33 1176.43H417.67V1204.44H415.33zM417.67 1171.76H420.00V1199.77H417.67zM420.00 1164.76H422.33V1197.43H420.00zM422.33 1155.42H424.67V1192.77H422.33zM424.67 1150.75H427.00V1190.43H424.67zM427.00 1150.75H429.33V1188.10H427.00zM429.33 1148.42H431.67V1183.43H429.33zM431.67 1143.75H434.00V1176.43H431.67zM434.00 1139.08H436.33V1171.76H434.00zM436.33 1136.75H438.67V1169.42H436.33zM438.67 1134.41H441.00V1167.09H438.67zM441.00 1132.08H443.33V1164.76H441.00zM443.33 1129.74H445.67V1162.42H443.33zM445.67 1122.74H448.00V1162.42H445.67zM448.00 1120.41H450.33V1160.09H448.00zM450.33 1118.07H452.67V1148.42H450.33zM452.67 1115.74H455.00V1146.08H452.67zM455.00 1115.74H457.33V1143.75H455.00zM457.33 1115.74H459.67V1136.75H457.33zM459.67 1115.74H462.00V1136.75H459.67zM462.00 1113.40H464.33V1136.75H462.00zM464.33 1104.07H466.67V1136.75H464.33zM466.67 1101.73H469.00V1136.75H466.67zM469.00 1101.73H471.33V1134.41H469.00zM471.33 1101.73H473.67V1134.41H471.33zM473.67 1104.07H476.00V1134.41H473.67zM476.00 1104.07H478.33V1132.08H476.00zM478.33 1101.73H480.67V1125.07H478.33zM480.67 1097.06H483.00V1125.07H480.67zM483.00 1094.73H485.33V1127.41H483.00zM485.33 1094.73H487.67V1127.41H485.33zM487.67 1097.06H490.00V1127.41H487.67zM490.00 1099.40H492.33V1125.07H490.00zM492.33 1101.73H494.67V1122.74H492.33zM494.67 1099.40H497.00V1122.74H494.67zM497.00 1099.40H499.33V1125.07H497.00zM499.33 1087.73H501.67V1122.74H499.33zM501.67 1066.72H504.00V1122.74H501.67zM504.00 1064.39H506.33V1122.74H504.00zM506.33 1064.39H508.67V1120.41H506.33zM508.67 1064.39H511.00V1120.41H508.67zM511.00 1066.72H513.33V1122.74H511.00zM513.33 1071.39H515.67V1125.07H513.33zM515.67 1097.06H518.00V1127.41H515.67zM518.00 1101.73H520.33V1127.41H518.00zM520.33 1101.73H522.67V1127.41H520.33zM522.67 1101.73H525.00V1129.74H522.67zM525.00 1101.73H527.33V1132.08H525.00zM527.33 1104.07H529.67V1129.74H527.33zM529.67 1106.40H532.00V1132.08H529.67zM532.00 1106.40H534.33V1134.41H532.00zM534.33 1108.74H536.67V1134.41H534.33zM536.67 1108.74H539.00V1136.75H536.67zM539.00 1101.73H541.33V1136.75H539.00zM541.33 1090.06H543.67V1136.75H541.33zM543.67 1078.39H546.00V1134.41H543.67zM546.00 1076.06H548.33V1125.07H546.00zM548.33 1073.72H550.67V1120.41H548.33zM550.67 1071.39H553.00V1108.74H550.67zM550.67 1111.07H553.00V1113.40H550.67zM553.00 1071.39H555.33V1104.07H553.00zM555.33 1071.39H557.67V1101.73H555.33zM557.67 1059.72H560.00V1104.07H557.67zM560.00 1055.05H562.33V1101.73H560.00zM562.33 1052.72H564.67V1099.40H562.33zM564.67 1052.72H567.00V1108.74H564.67zM567.00 1052.72H569.33V1134.41H567.00zM569.33 1055.05H571.67V1141.41H569.33zM571.67 1059.72H574.00V1150.75H571.67zM574.00 1066.72H576.33V1153.09H574.00zM576.33 1094.73H578.67V1160.09H576.33zM578.67 1120.41H581.00V1167.09H578.67zM581.00 1129.74H583.33V1169.42H581.00zM583.33 1141.41H585.67V1174.09H583.33zM585.67 1143.75H588.00V1176.43H585.67zM588.00 1148.42H590.33V1178.76H588.00zM590.33 1153.09H592.67V1181.10H590.33zM592.67 1157.75H595.00V1183.43H592.67zM595.00 1160.09H597.33V1185.76H595.00zM597.33 1164.76H599.67V1190.43H597.33zM599.67 1167.09H602.00V1192.77H599.67zM602.00 1169.42H604.33V1192.77H602.00zM604.33 1171.76H606.67V1195.10H604.33zM606.67 1174.09H609.00V1197.43H606.67zM609.00 1174.09H611.33V1199.77H609.00zM611.33 1174.09H613.67V1202.10H611.33zM613.67 1176.43H616.00V1204.44H613.67zM616.00 1178.76H618.33V1204.44H616.00zM618.33 1178.76H620.67V1204.44H618.33zM620.67 1181.10H623.00V1211.44H620.67zM623.00 1181.10H625.33V1213.77H623.00zM625.33 1183.43H627.67V1216.11H625.33zM627.67 1183.43H630.00V1216.11H627.67zM630.00 1185.76H632.33V1216.11H630.00zM632.33 1188.10H634.67V1218.44H632.33zM634.67 1190.43H637.00V1218.44H634.67zM637.00 1192.77H639.33V1218.44H637.00zM639.33 1195.10H641.67V1220.78H639.33zM641.67 1195.10H644.00V1223.11H641.67zM644.00 1197.43H646.33V1223.11H644.00zM646.33 1197.43H648.67V1223.11H646.33zM648.67 1192.77H651.00V1225.44H648.67zM651.00 1143.75H653.33V1225.44H651.00zM653.33 1015.37H655.67V1223.11H653.33zM655.67 980.36H658.00V1220.78H655.67zM658.00 980.36H660.33V1220.78H658.00zM660.33 978.02H662.67V1218.44H660.33zM662.67 978.02H665.00V1220.78H662.67zM665.00 980.36H667.33V1225.44H665.00zM667.33 982.69H669.67V1227.78H667.33zM669.67 1083.06H672.00V1230.11H669.67zM672.00 1192.77H674.33V1230.11H672.00zM674.33 1202.10H676.67V1227.78H674.33zM676.67 1199.77H679.00V1227.78H676.67zM679.00 1199.77H681.33V1230.11H679.00zM681.33 1199.77H683.67V1232.45H681.33zM683.67 1199.77H686.00V1232.45H683.67zM686.00 1199.77H688.33V1230.11H686.00zM688.33 1202.10H690.67V1225.44H688.33zM690.67 1204.44H693.00V1225.44H690.67zM693.00 1206.77H695.33V1227.78H693.00zM695.33 1206.77H697.67V1227.78H695.33zM697.67 1206.77H700.00V1227.78H697.67zM700.00 1206.77H702.33V1227.78H700.00zM702.33 1206.77H704.67V1227.78H702.33zM704.67 1204.44H707.00V1227.78H704.67zM707.00 1204.44H709.33V1230.11H707.00zM709.33 1202.10H711.67V1230.11H709.33zM711.67 1199.77H714.00V1230.11H711.67zM714.00 1199.77H716.33V1230.11H714.00zM716.33 1202.10H718.67V1227.78H716.33zM718.67 1204.44H721.00V1227.78H718.67zM721.00 1199.77H723.33V1230.11H721.00zM723.33 1178.76H725.67V1230.11H723.33zM725.67 1157.75H728.00V1227.78H725.67zM728.00 1155.42H730.33V1225.44H728.00zM730.33 1155.42H732.67V1223.11H730.33zM732.67 1155.42H735.00V1223.11H732.67zM735.00 1155.42H737.33V1225.44H735.00zM737.33 1160.09H739.67V1227.78H737.33zM739.67 1188.10H742.00V1230.11H739.67zM742.00 1204.44H744.33V1230.11H742.00zM744.33 1204.44H746.67V1227.78H744.33zM746.67 1204.44H749.00V1225.44H746.67zM749.00 1204.44H751.33V1225.44H749.00zM751.33 1204.44H753.67V1227.78H751.33zM753.67 1204.44H756.00V1227.78H753.67zM756.00 1204.44H758.33V1227.78H756.00zM758.33 1204.44H760.67V1225.44H758.33zM760.67 1204.44H763.00V1225.44H760.67zM763.00 1204.44H765.33V1225.44H763.00zM765.33 1206.77H767.67V1225.44H765.33zM767.67 1206.77H770.00V1227.78H767.67zM770.00 1206.77H772.33V1227.78H770.00zM772.33 1206.77H774.67V1227.78H772.33zM774.67 1204.44H777.00V1230.11H774.67zM777.00 1204.44H779.33V1230.11H777.00zM779.33 1206.77H781.67V1227.78H779.33zM781.67 1206.77H784.00V1227.78H781.67zM784.00 1204.44H786.33V1230.11H784.00zM786.33 1204.44H788.67V1232.45H786.33zM788.67 1206.77H791.00V1232.45H788.67zM791.00 1204.44H793.33V1232.45H791.00zM793.33 1204.44H795.67V1230.11H793.33zM795.67 1204.44H798.00V1227.78H795.67zM798.00 1204.44H800.33V1225.44H798.00zM800.33 1204.44H802.67V1225.44H800.33zM802.67 1202.10H805.00V1225.44H802.67zM805.00 1199.77H807.33V1223.11H805.00zM807.33 1202.10H809.67V1220.78H807.33zM809.67 1202.10H812.00V1225.44H809.67zM812.00 1202.10H814.33V1227.78H812.00zM814.33 1199.77H816.67V1227.78H814.33zM816.67 1199.77H819.00V1227.78H816.67zM819.00 1202.10H821.33V1230.11H819.00zM821.33 1204.44H823.67V1230.11H821.33zM823.67 1206.77H826.00V1230.11H823.67zM826.00 1206.77H828.33V1227.78H826.00zM828.33 1206.77H830.67V1225.44H828.33zM830.67 1206.77H833.00V1225.44H830.67zM833.00 1206.77H835.33V1225.44H833.00zM835.33 1206.77H837.67V1227.78H835.33zM837.67 1206.77H840.00V1230.11H837.67zM840.00 1206.77H842.33V1230.11H840.00zM842.33 1206.77H844.67V1227.78H842.33zM844.67 1206.77H847.00V1230.11H844.67zM847.00 1204.44H849.33V1230.11H847.00zM849.33 1204.44H851.67V1230.11H849.33zM851.67 1204.44H854.00V1227.78H851.67zM854.00 1206.77H856.33V1225.44H854.00zM856.33 1204.44H858.67V1225.44H856.33zM858.67 1204.44H861.00V1227.78H858.67zM861.00 1204.44H863.33V1230.11H861.00zM863.33 1204.44H865.67V1227.78H863.33zM865.67 1204.44H868.00V1227.78H865.67zM868.00 1206.77H870.33V1227.78H868.00zM870.33 1209.11H872.67V1227.78H870.33zM872.67 1206.77H875.00V1227.78H872.67zM875.00 1206.77H877.33V1230.11H875.00zM877.33 1209.11H879.67V1232.45H877.33zM879.67 1211.44H882.00V1232.45H879.67zM882.00 1211.44H884.33V1232.45H882.00zM884.33 1211.44H886.67V1234.78H884.33zM886.67 1211.44H889.00V1237.12H886.67zM889.00 1213.77H891.33V1237.12H889.00zM891.33 1216.11H893.67V1237.12H891.33zM893.67 1216.11H896.00V1234.78H893.67zM896.00 1216.11H898.33V1234.78H896.00zM898.33 1213.77H900.67V1234.78H898.33zM900.67 1216.11H903.00V1234.78H900.67zM903.00 1216.11H905.33V1234.78H903.00zM905.33 1216.11H907.67V1237.12H905.33zM907.67 1218.44H910.00V1234.78H907.67zM910.00 1218.44H912.33V1234.78H910.00zM912.33 1218.44H914.67V1234.78H912.33zM914.67 1216.11H917.00V1234.78H914.67zM917.00 1218.44H919.33V1237.12H917.00zM919.33 1218.44H921.67V1239.45H919.33zM921.67 1218.44H924.00V1239.45H921.67zM924.00 1218.44H926.33V1239.45H924.00zM926.33 1218.44H928.67V1237.12H926.33zM928.67 1218.44H931.00V1237.12H928.67zM931.00 1216.11H933.33V1237.12H931.00zM933.33 1216.11H935.67V1239.45H933.33zM935.67 1216.11H938.00V1241.78H935.67zM938.00 1218.44H940.33V1241.78H938.00zM940.33 1220.78H942.67V1241.78H940.33zM942.67 1218.44H945.00V1241.78H942.67zM945.00 1218.44H947.33V1241.78H945.00zM947.33 1216.11H949.67V1241.78H947.33zM949.67 1216.11H952.00V1241.78H949.67zM952.00 1218.44H954.33V1239.45H952.00zM954.33 1220.78H956.67V1241.78H954.33zM956.67 1220.78H959.00V1241.78H956.67zM959.00 1220.78H961.33V1241.78H959.00zM961.33 1220.78H963.67V1239.45H961.33zM963.67 1218.44H966.00V1239.45H963.67zM966.00 1218.44H968.33V1239.45H966.00zM968.33 1218.44H970.67V1239.45H968.33zM970.67 1218.44H973.00V1239.45H970.67zM973.00 1218.44H975.33V1237.12H973.00zM975.33 1218.44H977.67V1239.45H975.33zM977.67 1218.44H980.00V1239.45H977.67zM980.00 1218.44H982.33V1239.45H980.00zM982.33 1218.44H984.67V1239.45H982.33zM984.67 1218.44H987.00V1237.12H984.67zM987.00 1218.44H989.33V1237.12H987.00zM989.33 1218.44H991.67V1234.78H989.33zM991.67 1216.11H994.00V1234.78H991.67zM994.00 1216.11H996.33V1234.78H994.00zM996.33 1216.11H998.67V1234.78H996.33zM998.67 1218.44H1001.00V1234.78H998.67zM1001.00 1216.11H1003.33V1234.78H1001.00zM1003.33 1213.77H1005.67V1234.78H1003.33zM1005.67 1213.77H1008.00V1234.78H1005.67zM1008.00 1213.77H1010.33V1234.78H1008.00zM1010.33 1213.77H1012.67V1234.78H1010.33zM1012.67 1216.11H1015.00V1234.78H1012.67zM1015.00 1213.77H1017.33V1234.78H1015.00zM1017.33 1213.77H1019.67V1237.12H1017.33zM1019.67 1213.77H1022.00V1234.78H1019.67zM1022.00 1213.77H1024.33V1234.78H1022.00zM1024.33 1213.77H1026.67V1234.78H1024.33zM1026.67 1213.77H1029.00V1234.78H1026.67zM1029.00 1213.77H1031.33V1234.78H1029.00zM1031.33 1213.77H1033.67V1234.78H1031.33zM1033.67 1216.11H1036.00V1237.12H1033.67zM1036.00 1216.11H1038.33V1237.12H1036.00zM1038.33 1216.11H1040.67V1237.12H1038.33zM1040.67 1216.11H1043.00V1237.12H1040.67zM1043.00 1213.77H1045.33V1237.12H1043.00zM1045.33 1213.77H1047.67V1234.78H1045.33zM1047.67 1213.77H1050.00V1232.45H1047.67zM1050.00 1213.77H1052.33V1232.45H1050.00zM1052.33 1216.11H1054.67V1230.11H1052.33zM1054.67 1213.77H1057.00V1230.11H1054.67zM1057.00 1213.77H1059.33V1232.45H1057.00zM1059.33 1213.77H1061.67V1232.45H1059.33zM1061.67 1213.77H1064.00V1234.78H1061.67zM1064.00 1213.77H1066.33V1234.78H1064.00zM1066.33 1211.44H1068.67V1232.45H1066.33zM1068.67 1211.44H1071.00V1232.45H1068.67zM1071.00 1209.11H1073.33V1234.78H1071.00zM1073.33 1211.44H1075.67V1234.78H1073.33zM1075.67 1211.44H1078.00V1234.78H1075.67zM1078.00 1213.77H1080.33V1232.45H1078.00zM1080.33 1213.77H1082.67V1232.45H1080.33zM1082.67 1211.44H1085.00V1232.45H1082.67zM1085.00 1211.44H1087.33V1232.45H1085.00zM1087.33 1211.44H1089.67V1230.11H1087.33zM1089.67 1211.44H1092.00V1230.11H1089.67zM1092.00 1211.44H1094.33V1230.11H1092.00zM1094.33 1213.77H1096.67V1232.45H1094.33zM1096.67 1213.77H1099.00V1234.78H1096.67zM1099.00 1213.77H1101.33V1234.78H1099.00zM1101.33 1213.77H1103.67V1234.78H1101.33zM1103.67 1213.77H1106.00V1234.78H1103.67zM1106.00 1213.77H1108.33V1232.45H1106.00zM1108.33 1213.77H1110.67V1232.45H1108.33zM1110.67 1213.77H1113.00V1232.45H1110.67zM1113.00 1213.77H1115.33V1232.45H1113.00zM1115.33 1213.77H1117.67V1232.45H1115.33zM1117.67 1213.77H1120.00V1230.11H1117.67zM1120.00 1213.77H1122.33V1230.11H1120.00zM1122.33 1213.77H1124.67V1232.45H1122.33zM1124.67 1213.77H1127.00V1232.45H1124.67zM1127.00 1213.77H1129.33V1232.45H1127.00zM1129.33 1213.77H1131.67V1232.45H1129.33zM1131.67 1213.77H1134.00V1232.45H1131.67zM1134.00 1216.11H1136.33V1232.45H1134.00zM1136.33 1213.77H1138.67V1232.45H1136.33zM1138.67 1213.77H1141.00V1232.45H1138.67zM1141.00 1213.77H1143.33V1232.45H1141.00zM1143.33 1211.44H1145.67V1232.45H1143.33zM1145.67 1211.44H1148.00V1232.45H1145.67zM1148.00 1211.44H1150.33V1232.45H1148.00zM1150.33 1213.77H1152.67V1232.45H1150.33zM1152.67 1213.77H1155.00V1232.45H1152.67zM1155.00 1213.77H1157.33V1232.45H1155.00zM1157.33 1213.77H1159.67V1232.45H1157.33zM1159.67 1213.77H1162.00V1232.45H1159.67zM1162.00 1213.77H1164.33V1230.11H1162.00zM1164.33 1213.77H1166.67V1232.45H1164.33zM1166.67 1213.77H1169.00V1232.45H1166.67zM1169.00 1213.77H1171.33V1232.45H1169.00zM1171.33 1213.77H1173.67V1232.45H1171.33zM1173.67 1216.11H1176.00V1232.45H1173.67zM1176.00 1213.77H1178.33V1232.45H1176.00zM1178.33 1211.44H1180.67V1232.45H1178.33zM1180.67 1211.44H1183.00V1232.45H1180.67zM1183.00 1211.44H1185.33V1232.45H1183.00zM1185.33 1213.77H1187.67V1232.45H1185.33zM1187.67 1213.77H1190.00V1232.45H1187.67zM1190.00 1213.77H1192.33V1234.78H1190.00zM1192.33 1213.77H1194.67V1237.12H1192.33zM1194.67 1213.77H1197.00V1237.12H1194.67zM1197.00 1213.77H1199.33V1234.78H1197.00zM1199.33 1213.77H1201.67V1234.78H1199.33zM1201.67 1213.77H1204.00V1234.78H1201.67zM1204.00 1213.77H1206.33V1232.45H1204.00zM1206.33 1213.77H1208.67V1232.45H1206.33zM1208.67 1216.11H1211.00V1234.78H1208.67zM1211.00 1218.44H1213.33V1234.78H1211.00zM1213.33 1218.44H1215.67V1234.78H1213.33zM1215.67 1218.44H1218.00V1234.78H1215.67zM1218.00 1216.11H1220.33V1237.12H1218.00zM1220.33 1216.11H1222.67V1239.45H1220.33zM1222.67 1216.11H1225.00V1237.12H1222.67zM1225.00 1213.77H1227.33V1237.12H1225.00zM1227.33 1213.77H1229.67V1234.78H1227.33zM1229.67 1216.11H1232.00V1234.78H1229.67zM1232.00 1218.44H1234.33V1234.78H1232.00zM1234.33 1218.44H1236.67V1234.78H1234.33zM1236.67 1218.44H1239.00V1234.78H1236.67zM1239.00 1218.44H1241.33V1234.78H1239.00zM1241.33 1218.44H1243.67V1234.78H1241.33zM1243.67 1218.44H1246.00V1237.12H1243.67zM1246.00 1216.11H1248.33V1237.12H1246.00zM1248.33 1216.11H1250.67V1237.12H1248.33zM1250.67 1218.44H1253.00V1237.12H1250.67zM1253.00 1218.44H1255.33V1234.78H1253.00zM1255.33 1218.44H1257.67V1234.78H1255.33zM1257.67 1218.44H1260.00V1234.78H1257.67zM1260.00 1218.44H1262.33V1234.78H1260.00zM1262.33 1218.44H1264.67V1234.78H1262.33zM1264.67 1218.44H1267.00V1237.12H1264.67zM1267.00 1218.44H1269.33V1237.12H1267.00zM1269.33 1218.44H1271.67V1237.12H1269.33zM1271.67 1216.11H1274.00V1234.78H1271.67zM1274.00 1213.77H1276.33V1234.78H1274.00zM1276.33 1213.77H1278.67V1234.78H1276.33zM1278.67 1213.77H1281.00V1234.78H1278.67zM1281.00 1216.11H1283.33V1234.78H1281.00zM1283.33 1218.44H1285.67V1234.78H1283.33zM1285.67 1220.78H1288.00V1234.78H1285.67zM1288.00 1218.44H1290.33V1234.78H1288.00zM1290.33 1218.44H1292.67V1237.12H1290.33zM1292.67 1218.44H1295.00V1239.45H1292.67zM1295.00 1218.44H1297.33V1241.78H1295.00zM1297.33 1220.78H1299.67V1241.78H1297.33zM1299.67 1223.11H1302.00V1241.78H1299.67zM1302.00 1223.11H1304.33V1241.78H1302.00zM1304.33 1223.11H1306.67V1239.45H1304.33zM1306.67 1220.78H1309.00V1239.45H1306.67zM1309.00 1220.78H1311.33V1239.45H1309.00zM1311.33 1220.78H1313.67V1239.45H1311.33zM1313.67 1220.78H1316.00V1239.45H1313.67zM1316.00 1220.78H1318.33V1239.45H1316.00zM1318.33 1220.78H1320.67V1239.45H1318.33zM1320.67 1218.44H1323.00V1239.45H1320.67zM1323.00 1218.44H1325.33V1239.45H1323.00zM1325.33 1218.44H1327.67V1237.12H1325.33zM1327.67 1218.44H1330.00V1239.45H1327.67zM1330.00 1220.78H1332.33V1239.45H1330.00zM1332.33 1220.78H1334.67V1239.45H1332.33zM1334.67 1220.78H1337.00V1237.12H1334.67zM1337.00 1220.78H1339.33V1237.12H1337.00zM1339.33 1220.78H1341.67V1239.45H1339.33zM1341.67 1220.78H1344.00V1239.45H1341.67zM1344.00 1220.78H1346.33V1239.45H1344.00zM1346.33 1220.78H1348.67V1239.45H1346.33zM1348.67 1220.78H1351.00V1237.12H1348.67zM1351.00 1223.11H1353.33V1237.12H1351.00zM1353.33 1223.11H1355.67V1239.45H1353.33zM1355.67 1223.11H1358.00V1239.45H1355.67zM1358.00 1220.78H1360.33V1239.45H1358.00zM1360.33 1220.78H1362.67V1239.45H1360.33zM1362.67 1220.78H1365.00V1239.45H1362.67zM1365.00 1220.78H1367.33V1239.45H1365.00zM1367.33 1223.11H1369.67V1239.45H1367.33zM1369.67 1220.78H1372.00V1239.45H1369.67zM1372.00 1220.78H1374.33V1239.45H1372.00zM1374.33 1220.78H1376.67V1239.45H1374.33zM1376.67 1220.78H1379.00V1237.12H1376.67zM1379.00 1220.78H1381.33V1239.45H1379.00zM1381.33 1220.78H1383.67V1239.45H1381.33zM1383.67 1220.78H1386.00V1239.45H1383.67zM1386.00 1220.78H1388.33V1239.45H1386.00zM1388.33 1218.44H1390.67V1239.45H1388.33zM1390.67 1218.44H1393.00V1239.45H1390.67zM1393.00 1218.44H1395.33V1239.45H1393.00zM1395.33 1220.78H1397.67V1239.45H1395.33zM1397.67 1220.78H1400.00V1239.45H1397.67zM1400.00 1220.78H1402.33V1239.45H1400.00zM1402.33 1220.78H1404.67V1239.45H1402.33zM1404.67 1220.78H1407.00V1239.45H1404.67zM1407.00 1218.44H1409.33V1239.45H1407.00zM1409.33 1218.44H1411.67V1239.45H1409.33zM1411.67 1218.44H1414.00V1241.78H1411.67zM1414.00 1220.78H1416.33V1241.78H1414.00zM1416.33 1220.78H1418.67V1241.78H1416.33zM1418.67 1218.44H1421.00V1239.45H1418.67zM1421.00 1218.44H1423.33V1237.12H1421.00zM1423.33 1218.44H1425.67V1237.12H1423.33zM1425.67 1218.44H1428.00V1237.12H1425.67zM1428.00 1218.44H1430.33V1234.78H1428.00zM1430.33 1218.44H1432.67V1237.12H1430.33zM1432.67 1218.44H1435.00V1237.12H1432.67zM1435.00 1218.44H1437.33V1237.12H1435.00zM1437.33 1218.44H1439.67V1237.12H1437.33zM1439.67 1220.78H1442.00V1239.45H1439.67zM1442.00 1220.78H1444.33V1239.45H1442.00zM1444.33 1220.78H1446.67V1237.12H1444.33zM1446.67 1220.78H1449.00V1237.12H1446.67zM1449.00 1218.44H1451.33V1237.12H1449.00zM1451.33 1218.44H1453.67V1237.12H1451.33zM1453.67 1218.44H1456.00V1237.12H1453.67zM1456.00 1218.44H1458.33V1237.12H1456.00zM1458.33 1216.11H1460.67V1237.12H1458.33zM1460.67 1216.11H1463.00V1237.12H1460.67zM1463.00 1216.11H1465.33V1234.78H1463.00zM1465.33 1218.44H1467.67V1237.12H1465.33zM1467.67 1218.44H1470.00V1237.12H1467.67zM1470.00 1218.44H1472.33V1237.12H1470.00zM1472.33 1216.11H1474.67V1234.78H1472.33zM1474.67 1216.11H1477.00V1237.12H1474.67zM1477.00 1218.44H1479.33V1237.12H1477.00zM1479.33 1218.44H1481.67V1237.12H1479.33zM1481.67 1218.44H1484.00V1234.78H1481.67zM1484.00 1218.44H1486.33V1237.12H1484.00zM1486.33 1216.11H1488.67V1237.12H1486.33zM1488.67 1216.11H1491.00V1237.12H1488.67zM1491.00 1216.11H1493.33V1234.78H1491.00zM1493.33 1216.11H1495.67V1234.78H1493.33zM1495.67 1216.11H1498.00V1234.78H1495.67zM1498.00 1216.11H1500.33V1234.78H1498.00zM1500.33 1216.11H1502.67V1232.45H1500.33zM1502.67 1213.77H1505.00V1232.45H1502.67zM1505.00 1213.77H1507.33V1234.78H1505.00zM1507.33 1213.77H1509.67V1232.45H1507.33zM1509.67 1213.77H1512.00V1232.45H1509.67zM1512.00 1213.77H1514.33V1232.45H1512.00zM1514.33 1213.77H1516.67V1232.45H1514.33zM1516.67 1213.77H1519.00V1232.45H1516.67zM1519.00 1213.77H1521.33V1234.78H1519.00zM1521.33 1213.77H1523.67V1234.78H1521.33zM1523.67 1213.77H1526.00V1234.78H1523.67zM1526.00 1213.77H1528.33V1234.78H1526.00zM1528.33 1213.77H1530.67V1234.78H1528.33zM1530.67 1216.11H1533.00V1232.45H1530.67zM1533.00 1216.11H1535.33V1232.45H1533.00zM1535.33 1213.77H1537.67V1232.45H1535.33zM1537.67 1213.77H1540.00V1232.45H1537.67zM1540.00 1216.11H1542.33V1232.45H1540.00zM1542.33 1213.77H1544.67V1232.45H1542.33zM1544.67 1211.44H1547.00V1232.45H1544.67zM1547.00 1211.44H1549.33V1232.45H1547.00zM1549.33 1211.44H1551.67V1232.45H1549.33zM1551.67 1213.77H1554.00V1232.45H1551.67zM1554.00 1213.77H1556.33V1230.11H1554.00zM1556.33 1213.77H1558.67V1230.11H1556.33zM1558.67 1213.77H1561.00V1232.45H1558.67zM1561.00 1213.77H1563.33V1232.45H1561.00zM1563.33 1213.77H1565.67V1232.45H1563.33zM1565.67 1213.77H1568.00V1230.11H1565.67zM1568.00 1213.77H1570.33V1230.11H1568.00zM1570.33 1213.77H1572.67V1230.11H1570.33zM1572.67 1211.44H1575.00V1232.45H1572.67zM1575.00 1211.44H1577.33V1232.45H1575.00zM1577.33 1211.44H1579.67V1232.45H1577.33zM1579.67 1211.44H1582.00V1232.45H1579.67zM1582.00 1213.77H1584.33V1232.45H1582.00zM1584.33 1213.77H1586.67V1232.45H1584.33zM1586.67 1213.77H1589.00V1232.45H1586.67zM1589.00 1213.77H1591.33V1232.45H1589.00zM1591.33 1213.77H1593.67V1232.45H1591.33zM1593.67 1213.77H1596.00V1230.11H1593.67zM1596.00 1213.77H1598.33V1230.11H1596.00zM1598.33 1213.77H1600.67V1230.11H1598.33zM1600.67 1213.77H1603.00V1230.11H1600.67zM1603.00 1213.77H1605.33V1230.11H1603.00zM1605.33 1211.44H1607.67V1232.45H1605.33zM1607.67 1211.44H1610.00V1232.45H1607.67zM1610.00 1211.44H1612.33V1232.45H1610.00zM1612.33 1211.44H1614.67V1232.45H1612.33zM1614.67 1211.44H1617.00V1230.11H1614.67zM1617.00 1213.77H1619.33V1230.11H1617.00zM1619.33 1213.77H1621.67V1232.45H1619.33zM1621.67 1213.77H1624.00V1232.45H1621.67zM1624.00 1213.77H1626.33V1232.45H1624.00zM1626.33 1211.44H1628.67V1232.45H1626.33zM1628.67 1211.44H1631.00V1230.11H1628.67zM1631.00 1211.44H1633.33V1230.11H1631.00zM1633.33 1211.44H1635.67V1230.11H1633.33zM1635.67 1211.44H1638.00V1230.11H1635.67zM1638.00 1211.44H1640.33V1230.11H1638.00zM1640.33 1213.77H1642.67V1230.11H1640.33zM1642.67 1211.44H1645.00V1232.45H1642.67zM1645.00 1211.44H1647.33V1232.45H1645.00zM1647.33 1211.44H1649.67V1230.11H1647.33zM1649.67 1211.44H1652.00V1227.78H1649.67zM1652.00 1211.44H1654.33V1227.78H1652.00zM1654.33 1211.44H1656.67V1230.11H1654.33zM1656.67 1211.44H1659.00V1230.11H1656.67zM1659.00 1211.44H1661.33V1230.11H1659.00zM1661.33 1211.44H1663.67V1230.11H1661.33zM1663.67 1211.44H1666.00V1227.78H1663.67zM1666.00 1211.44H1668.33V1227.78H1666.00zM1668.33 1209.11H1670.67V1230.11H1668.33zM1670.67 1209.11H1673.00V1230.11H1670.67zM1673.00 1211.44H1675.33V1230.11H1673.00zM1675.33 1211.44H1677.67V1232.45H1675.33zM1677.67 1213.77H1680.00V1232.45H1677.67zM1680.00 1213.77H1682.33V1230.11H1680.00zM1682.33 1213.77H1684.67V1232.45H1682.33zM1684.67 1211.44H1687.00V1232.45H1684.67zM1687.00 1211.44H1689.33V1232.45H1687.00zM1689.33 1211.44H1691.67V1234.78H1689.33zM1691.67 1211.44H1694.00V1234.78H1691.67zM1694.00 1213.77H1696.33V1234.78H1694.00zM1696.33 1213.77H1698.67V1232.45H1696.33zM1698.67 1213.77H1701.00V1232.45H1698.67zM1701.00 1213.77H1703.33V1232.45H1701.00zM1703.33 1213.77H1705.67V1232.45H1703.33zM1705.67 1213.77H1708.00V1232.45H1705.67zM1708.00 1213.77H1710.33V1232.45H1708.00zM1710.33 1213.77H1712.67V1232.45H1710.33zM1712.67 1213.77H1715.00V1230.11H1712.67zM1715.00 1213.77H1717.33V1232.45H1715.00zM1717.33 1213.77H1719.67V1232.45H1717.33zM1719.67 1213.77H1722.00V1232.45H1719.67zM1722.00 1213.77H1724.33V1232.45H1722.00zM1724.33 1216.11H1726.67V1232.45H1724.33zM1726.67 1213.77H1729.00V1232.45H1726.67zM1729.00 1216.11H1731.33V1232.45H1729.00zM1731.33 1216.11H1733.67V1232.45H1731.33zM1733.67 1216.11H1736.00V1232.45H1733.67zM1736.00 1213.77H1738.33V1234.78H1736.00zM1738.33 1213.77H1740.67V1234.78H1738.33zM1740.67 1216.11H1743.00V1232.45H1740.67zM1743.00 1216.11H1745.33V1232.45H1743.00zM1745.33 1216.11H1747.67V1232.45H1745.33zM1747.67 1216.11H1750.00V1232.45H1747.67zM1750.00 1213.77H1752.33V1234.78H1750.00zM1752.33 1213.77H1754.67V1234.78H1752.33zM1754.67 1213.77H1757.00V1234.78H1754.67zM1757.00 1213.77H1759.33V1234.78H1757.00zM1759.33 1213.77H1761.67V1232.45H1759.33zM1761.67 1213.77H1764.00V1232.45H1761.67zM1764.00 1213.77H1766.33V1232.45H1764.00zM1766.33 1213.77H1768.67V1232.45H1766.33zM1768.67 1216.11H1771.00V1232.45H1768.67zM1771.00 1216.11H1773.33V1232.45H1771.00zM1773.33 1213.77H1775.67V1232.45H1773.33zM1775.67 1216.11H1778.00V1232.45H1775.67zM1778.00 1216.11H1780.33V1232.45H1778.00zM1780.33 1216.11H1782.67V1232.45H1780.33zM1782.67 1216.11H1785.00V1232.45H1782.67zM1785.00 1216.11H1787.33V1232.45H1785.00zM1787.33 1216.11H1789.67V1232.45H1787.33zM1789.67 1213.77H1792.00V1232.45H1789.67zM1792.00 1213.77H1794.33V1232.45H1792.00zM1794.33 1216.11H1796.67V1232.45H1794.33zM1796.67 1216.11H1799.00V1234.78H1796.67zM1799.00 1216.11H1801.33V1234.78H1799.00zM1801.33 1216.11H1803.67V1232.45H1801.33zM1803.67 1216.11H1806.00V1232.45H1803.67zM1806.00 1216.11H1808.33V1234.78H1806.00zM1808.33 1216.11H1810.67V1234.78H1808.33zM1810.67 1216.11H1813.00V1234.78H1810.67zM1813.00 1216.11H1815.33V1234.78H1813.00zM1815.33 1216.11H1817.67V1234.78H1815.33zM1817.67 1216.11H1820.00V1232.45H1817.67zM1820.00 1216.11H1822.33V1232.45H1820.00zM1822.33 1218.44H1824.67V1234.78H1822.33zM1824.67 1216.11H1827.00V1234.78H1824.67zM1827.00 1216.11H1829.33V1234.78H1827.00zM1829.33 1216.11H1831.67V1234.78H1829.33zM1831.67 1216.11H1834.00V1234.78H1831.67zM1834.00 1216.11H1836.33V1234.78H1834.00zM1836.33 1216.11H1838.67V1234.78H1836.33zM1838.67 1216.11H1841.00V1234.78H1838.67zM1841.00 1216.11H1843.33V1234.78H1841.00zM1843.33 1216.11H1845.67V1234.78H1843.33zM1845.67 1216.11H1848.00V1234.78H1845.67zM1848.00 1213.77H1850.33V1234.78H1848.00zM1850.33 1213.77H1852.67V1234.78H1850.33zM1852.67 1216.11H1855.00V1234.78H1852.67zM1855.00 1216.11H1857.33V1234.78H1855.00zM1857.33 1216.11H1859.67V1232.45H1857.33zM1859.67 1216.11H1862.00V1232.45H1859.67zM1862.00 1216.11H1864.33V1232.45H1862.00zM1864.33 1218.44H1866.67V1232.45H1864.33zM1866.67 1216.11H1869.00V1232.45H1866.67zM1869.00 1216.11H1871.33V1234.78H1869.00zM1871.33 1216.11H1873.67V1234.78H1871.33zM1873.67 1218.44H1876.00V1232.45H1873.67zM1876.00 1218.44H1878.33V1232.45H1876.00zM1878.33 1218.44H1880.67V1232.45H1878.33zM1880.67 1218.44H1883.00V1234.78H1880.67zM1883.00 1216.11H1885.33V1237.12H1883.00zM1885.33 1216.11H1887.67V1237.12H1885.33zM1887.67 1216.11H1890.00V1234.78H1887.67zM1890.00 1218.44H1892.33V1234.78H1890.00zM1892.33 1216.11H1894.67V1234.78H1892.33zM1894.67 1216.11H1897.00V1234.78H1894.67zM1897.00 1218.44H1899.33V1234.78H1897.00zM1899.33 1218.44H1901.67V1234.78H1899.33zM1901.67 1218.44H1904.00V1234.78H1901.67zM1904.00 1218.44H1906.33V1234.78H1904.00zM1906.33 1218.44H1908.67V1234.78H1906.33zM1908.67 1218.44H1911.00V1234.78H1908.67zM1911.00 1216.11H1913.33V1234.78H1911.00zM1913.33 1216.11H1915.67V1234.78H1913.33zM1915.67 1216.11H1918.00V1232.45H1915.67zM1918.00 1216.11H1920.33V1232.45H1918.00zM1920.33 1218.44H1922.67V1234.78H1920.33zM1922.67 1218.44H1925.00V1234.78H1922.67zM1925.00 1218.44H1927.33V1234.78H1925.00zM1927.33 1216.11H1929.67V1234.78H1927.33zM1929.67 1218.44H1932.00V1234.78H1929.67zM1932.00 1218.44H1934.33V1234.78H1932.00zM1934.33 1218.44H1936.67V1234.78H1934.33zM1936.67 1218.44H1939.00V1232.45H1936.67zM1939.00 1218.44H1941.33V1232.45H1939.00zM1941.33 1216.11H1943.67V1234.78H1941.33zM1943.67 1216.11H1946.00V1234.78H1943.67zM1946.00 1216.11H1948.33V1234.78H1946.00zM1948.33 1218.44H1950.67V1234.78H1948.33zM1950.67 1216.11H1953.00V1234.78H1950.67zM1953.00 1216.11H1955.33V1234.78H1953.00zM1955.33 1218.44H1957.67V1234.78H1955.33zM1957.67 1216.11H1960.00V1234.78H1957.67zM1960.00 1216.11H1962.33V1234.78H1960.00zM1962.33 1218.44H1964.67V1232.45H1962.33zM1964.67 1218.44H1967.00V1232.45H1964.67zM1967.00 1218.44H1969.33V1234.78H1967.00zM1969.33 1218.44H1971.67V1234.78H1969.33zM1971.67 1218.44H1974.00V1232.45H1971.67zM1974.00 1218.44H1976.33V1232.45H1974.00zM1976.33 1218.44H1978.67V1232.45H1976.33zM1978.67 1218.44H1981.00V1232.45H1978.67zM1981.00 1218.44H1983.33V1232.45H1981.00zM1983.33 1218.44H1985.67V1234.78H1983.33zM1985.67 1218.44H1988.00V1234.78H1985.67zM1988.00 1218.44H1990.33V1234.78H1988.00zM1990.33 1218.44H1992.67V1232.45H1990.33zM1992.67 1218.44H1995.00V1234.78H1992.67zM1995.00 1218.44H1997.33V1232.45H1995.00zM1997.33 1218.44H1999.67V1234.78H1997.33zM1999.67 1218.44H2002.00V1234.78H1999.67zM2002.00 1218.44H2004.33V1234.78H2002.00zM2004.33 1218.44H2006.67V1234.78H2004.33zM2006.67 1218.44H2009.00V1234.78H2006.67zM2009.00 1218.44H2011.33V1237.12H2009.00zM2011.33 1218.44H2013.67V1237.12H2011.33zM2013.67 1218.44H2016.00V1234.78H2013.67zM2016.00 1218.44H2018.33V1234.78H2016.00zM2018.33 1218.44H2020.67V1234.78H2018.33zM2020.67 1218.44H2023.00V1237.12H2020.67zM2023.00 1216.11H2025.33V1237.12H2023.00zM2025.33 1213.77H2027.67V1234.78H2025.33zM2027.67 1213.77H2030.00V1237.12H2027.67zM2030.00 1216.11H2032.33V1237.12H2030.00zM2032.33 1216.11H2034.67V1234.78H2032.33zM2034.67 1218.44H2037.00V1234.78H2034.67zM2037.00 1218.44H2039.33V1234.78H2037.00zM2039.33 1216.11H2041.67V1232.45H2039.33zM2041.67 1216.11H2044.00V1232.45H2041.67zM2044.00 1218.44H2046.33V1234.78H2044.00zM2046.33 1218.44H2048.67V1234.78H2046.33zM2048.67 1218.44H2051.00V1234.78H2048.67zM2051.00 1216.11H2053.33V1234.78H2051.00zM2053.33 1216.11H2055.67V1234.78H2053.33zM2055.67 1216.11H2058.00V1234.78H2055.67zM2058.00 1218.44H2060.33V1234.78H2058.00zM2060.33 1218.44H2062.67V1234.78H2060.33zM2062.67 1218.44H2065.00V1234.78H2062.67zM2065.00 1218.44H2067.33V1234.78H2065.00zM2067.33 1220.78H2069.67V1232.45H2067.33zM2069.67 1225.44H2072.00V1230.11H2069.67z"/>
<path shape-rendering="crispEdges" fill="#ff00ff" d="M212.33 823.97H214.67V833.30H212.33zM214.67 821.63H217.00V851.98H214.67zM217.00 821.63H219.33V854.31H217.00zM219.33 821.63H221.67V868.32H219.33zM219.33 870.65H221.67V875.32H219.33zM221.67 823.97H224.00V884.65H221.67zM224.00 826.30H226.33V886.99H224.00zM226.33 837.97H228.67V889.32H226.33zM228.67 849.64H231.00V893.99H228.67zM231.00 856.64H233.33V896.33H231.00zM233.33 868.32H235.67V898.66H233.33zM235.67 872.98H238.00V900.99H235.67zM238.00 875.32H240.33V903.33H238.00zM240.33 877.65H242.67V905.66H240.33zM242.67 882.32H245.00V905.66H242.67zM245.00 882.32H247.33V908.00H245.00zM247.33 879.99H249.67V908.00H247.33zM249.67 879.99H252.00V908.00H249.67zM252.00 879.99H254.33V910.33H252.00zM254.33 882.32H256.67V910.33H254.33zM256.67 884.65H259.00V912.66H256.67zM259.00 886.99H261.33V912.66H259.00zM261.33 889.32H263.67V915.00H261.33zM263.67 891.66H266.00V917.33H263.67zM266.00 891.66H268.33V919.67H266.00zM268.33 893.99H270.67V919.67H268.33zM270.67 893.99H273.00V919.67H270.67zM273.00 893.99H275.33V917.33H273.00zM275.33 891.66H277.67V917.33H275.33zM277.67 889.32H280.00V917.33H277.67zM280.00 889.32H282.33V917.33H280.00zM282.33 891.66H284.67V917.33H282.33zM284.67 893.99H287.00V919.67H284.67zM287.00 893.99H289.33V919.67H287.00zM289.33 893.99H291.67V919.67H289.33zM291.67 896.33H294.00V917.33H291.67zM294.00 896.33H296.33V919.67H294.00zM296.33 896.33H298.67V922.00H296.33zM298.67 896.33H301.00V922.00H298.67zM301.00 896.33H303.33V922.00H301.00zM303.33 896.33H305.67V922.00H303.33zM305.67 893.99H308.00V922.00H305.67zM308.00 896.33H310.33V924.34H308.00zM310.33 891.66H312.67V924.34H310.33zM312.67 889.32H315.00V922.00H312.67zM315.00 886.99H317.33V919.67H315.00zM317.33 886.99H319.67V912.66H317.33zM319.67 886.99H322.00V912.66H319.67zM322.00 889.32H324.33V912.66H322.00zM324.33 891.66H326.67V915.00H324.33zM326.67 893.99H329.00V919.67H326.67zM329.00 898.66H331.33V922.00H329.00zM331.33 903.33H333.67V924.34H331.33zM333.67 900.99H336.00V924.34H333.67zM336.00 898.66H338.33V922.00H336.00zM338.33 898.66H340.67V922.00H338.33zM340.67 898.66H343.00V922.00H340.67zM343.00 896.33H345.33V924.34H343.00zM345.33 896.33H347.67V926.67H345.33zM347.67 898.66H350.00V929.00H347.67zM350.00 900.99H352.33V929.00H350.00zM352.33 898.66H354.67V929.00H352.33zM354.67 896.33H357.00V924.34H354.67zM357.00 893.99H359.33V919.67H357.00zM359.33 891.66H361.67V917.33H359.33zM361.67 891.66H364.00V917.33H361.67zM364.00 891.66H366.33V917.33H364.00zM366.33 886.99H368.67V915.00H366.33zM368.67 884.65H371.00V915.00H368.67zM371.00 884.65H373.33V912.66H371.00zM373.33 886.99H375.67V910.33H373.33zM375.67 886.99H378.00V912.66H375.67zM378.00 889.32H380.33V912.66H378.00zM380.33 886.99H382.67V912.66H380.33zM382.67 886.99H385.00V910.33H382.67zM385.00 886.99H387.33V908.00H385.00zM387.33 882.32H389.67V908.00H387.33zM389.67 872.98H392.00V908.00H389.67zM392.00 868.32H394.33V905.66H392.00zM394.33 868.32H396.67V903.33H394.33zM396.67 865.98H399.00V896.33H396.67zM399.00 863.65H401.33V893.99H399.00zM401.33 858.98H403.67V891.66H401.33zM403.67 856.64H406.00V884.65H403.67zM406.00 854.31H408.33V882.32H406.00zM408.33 854.31H410.67V877.65H408.33zM410.67 851.98H413.00V877.65H410.67zM413.00 851.98H415.33V875.32H413.00zM415.33 849.64H417.67V875.32H415.33zM417.67 842.64H420.00V872.98H417.67zM420.00 840.30H422.33V870.65H420.00zM422.33 837.97H424.67V865.98H422.33zM424.67 826.30H427.00V863.65H424.67zM427.00 826.30H429.33V863.65H427.00zM429.33 823.97H431.67V854.31H429.33zM431.67 819.30H434.00V851.98H431.67zM434.00 816.96H436.33V849.64H434.00zM436.33 814.63H438.67V844.97H436.33zM438.67 805.29H441.00V842.64H438.67zM441.00 802.96H443.33V837.97H441.00zM443.33 800.62H445.67V828.63H443.33zM445.67 798.29H448.00V826.30H445.67zM448.00 795.96H450.33V823.97H448.00zM450.33 795.96H452.67V819.30H450.33zM452.67 798.29H455.00V816.96H452.67zM455.00 795.96H457.33V814.63H455.00zM457.33 793.62H459.67V814.63H457.33zM459.67 793.62H462.00V814.63H459.67zM462.00 791.29H464.33V814.63H462.00zM464.33 784.28H466.67V814.63H464.33zM466.67 781.95H469.00V812.29H466.67zM469.00 781.95H471.33V809.96H469.00zM471.33 781.95H473.67V809.96H471.33zM473.67 779.62H476.00V809.96H473.67zM476.00 779.62H478.33V807.63H476.00zM478.33 781.95H480.67V802.96H478.33zM480.67 781.95H483.00V800.62H480.67zM483.00 779.62H485.33V800.62H483.00zM485.33 777.28H487.67V800.62H485.33zM487.67 777.28H490.00V800.62H487.67zM490.00 777.28H492.33V798.29H490.00zM492.33 779.62H494.67V798.29H492.33zM494.67 779.62H497.00V798.29H494.67zM497.00 779.62H499.33V798.29H497.00zM499.33 765.61H501.67V798.29H499.33zM501.67 742.27H504.00V798.29H501.67zM504.00 739.94H506.33V798.29H504.00zM506.33 737.60H508.67V798.29H506.33zM508.67 737.60H511.00V800.62H508.67zM511.00 739.94H513.33V805.29H511.00zM513.33 744.60H515.67V809.96H513.33zM515.67 772.61H518.00V812.29H515.67zM518.00 784.28H520.33V812.29H518.00zM520.33 784.28H522.67V812.29H520.33zM522.67 784.28H525.00V814.63H522.67zM525.00 784.28H527.33V814.63H525.00zM527.33 786.62H529.67V816.96H527.33zM529.67 791.29H532.00V816.96H529.67zM532.00 793.62H534.33V816.96H532.00zM534.33 793.62H536.67V814.63H534.33zM536.67 791.29H539.00V814.63H536.67zM539.00 781.95H541.33V814.63H539.00zM541.33 777.28H543.67V812.29H541.33zM543.67 763.28H546.00V809.96H543.67zM546.00 756.27H548.33V807.63H546.00zM548.33 753.94H550.67V805.29H548.33zM550.67 751.61H553.00V793.62H550.67zM553.00 751.61H555.33V786.62H553.00zM555.33 751.61H557.67V786.62H555.33zM557.67 746.94H560.00V788.95H557.67zM560.00 742.27H562.33V788.95H560.00zM562.33 739.94H564.67V788.95H562.33zM564.67 737.60H567.00V798.29H564.67zM567.00 737.60H569.33V809.96H567.00zM567.00 816.96H569.33V819.30H567.00zM569.33 739.94H571.67V826.30H569.33zM571.67 744.60H574.00V835.64H571.67zM574.00 756.27H576.33V835.64H574.00zM576.33 777.28H578.67V844.97H576.33zM578.67 800.62H581.00V847.31H578.67zM581.00 814.63H583.33V854.31H581.00zM583.33 816.96H585.67V861.31H583.33zM585.67 826.30H588.00V863.65H585.67zM588.00 833.30H590.33V863.65H588.00zM590.33 837.97H592.67V865.98H590.33zM592.67 842.64H595.00V870.65H592.67zM595.00 844.97H597.33V872.98H595.00zM597.33 847.31H599.67V875.32H597.33zM599.67 851.98H602.00V877.65H599.67zM602.00 854.31H604.33V879.99H602.00zM604.33 856.64H606.67V882.32H604.33zM606.67 858.98H609.00V884.65H606.67zM609.00 858.98H611.33V884.65H609.00zM611.33 861.31H613.67V886.99H611.33zM613.67 861.31H616.00V891.66H613.67zM616.00 865.98H618.33V891.66H616.00zM618.33 868.32H620.67V893.99H618.33zM620.67 870.65H623.00V891.66H620.67zM623.00 872.98H625.33V896.33H623.00zM625.33 870.65H627.67V898.66H625.33zM627.67 872.98H630.00V903.33H627.67zM630.00 875.32H632.33V905.66H630.00zM632.33 879.99H634.67V905.66H632.33zM634.67 882.32H637.00V905.66H634.67zM637.00 884.65H639.33V908.00H637.00zM639.33 886.99H641.67V910.33H639.33zM641.67 889.32H644.00V910.33H641.67zM644.00 889.32H646.33V910.33H644.00zM646.33 889.32H648.67V910.33H646.33zM648.67 891.66H651.00V910.33H648.67zM651.00 837.97H653.33V910.33H651.00zM653.33 702.59H655.67V910.33H653.33zM655.67 669.91H658.00V910.33H655.67zM658.00 667.58H660.33V910.33H658.00zM660.33 665.24H662.67V908.00H660.33zM662.67 665.24H665.00V917.33H662.67zM665.00 667.58H667.33V924.34H665.00zM667.33 669.91H669.67V926.67H667.33zM669.67 779.62H672.00V929.00H669.67zM672.00 886.99H674.33V929.00H672.00zM674.33 903.33H676.67V929.00H674.33zM676.67 903.33H679.00V929.00H676.67zM679.00 903.33H681.33V929.00H679.00zM681.33 903.33H683.67V926.67H681.33zM683.67 905.66H686.00V926.67H683.67zM686.00 905.66H688.33V929.00H686.00zM688.33 905.66H690.67V929.00H688.33zM690.67 910.33H693.00V933.67H690.67zM693.00 910.33H695.33V936.01H693.00zM695.33 912.66H697.67V936.01H695.33zM697.67 915.00H700.00V938.34H697.67zM700.00 912.66H702.33V940.67H700.00zM702.33 915.00H704.67V940.67H702.33zM704.67 917.33H707.00V943.01H704.67zM707.00 919.67H709.33V945.34H707.00zM709.33 919.67H711.67V943.01H709.33zM711.67 919.67H714.00V943.01H711.67zM714.00 919.67H716.33V943.01H714.00zM716.33 922.00H718.67V945.34H716.33zM718.67 922.00H721.00V945.34H718.67zM721.00 912.66H723.33V945.34H721.00zM723.33 891.66H725.67V945.34H723.33zM725.67 884.65H728.00V945.34H725.67zM728.00 882.32H730.33V943.01H728.00zM730.33 882.32H732.67V947.68H730.33zM732.67 882.32H735.00V950.01H732.67zM735.00 884.65H737.33V952.35H735.00zM737.33 896.33H739.67V952.35H737.33zM739.67 922.00H742.00V924.34H739.67zM739.67 926.67H742.00V952.35H739.67zM742.00 933.67H744.33V952.35H742.00zM744.33 933.67H746.67V954.68H744.33zM746.67 933.67H749.00V957.01H746.67zM749.00 933.67H751.33V959.35H749.00zM751.33 938.34H753.67V959.35H751.33zM753.67 938.34H756.00V961.68H753.67zM756.00 938.34H758.33V964.02H756.00zM758.33 940.67H760.67V961.68H758.33zM760.67 940.67H763.00V961.68H760.67zM763.00 940.67H765.33V961.68H763.00zM765.33 943.01H767.67V964.02H765.33zM767.67 945.34H770.00V966.35H767.67zM770.00 945.34H772.33V966.35H770.00zM772.33 947.68H774.67V966.35H772.33zM774.67 947.68H777.00V968.68H774.67zM777.00 947.68H779.33V968.68H777.00zM779.33 947.68H781.67V968.68H779.33zM781.67 950.01H784.00V968.68H781.67zM784.00 952.35H786.33V973.35H784.00zM786.33 952.35H788.67V975.69H786.33zM788.67 950.01H791.00V975.69H788.67zM791.00 950.01H793.33V975.69H791.00zM793.33 952.35H795.67V973.35H793.33zM795.67 952.35H798.00V973.35H795.67zM798.00 950.01H800.33V973.35H798.00zM800.33 952.35H802.67V971.02H800.33zM802.67 952.35H805.00V971.02H802.67zM805.00 952.35H807.33V971.02H805.00zM807.33 952.35H809.67V973.35H807.33zM809.67 952.35H812.00V973.35H809.67zM812.00 954.68H814.33V975.69H812.00zM814.33 957.01H816.67V978.02H814.33zM816.67 957.01H819.00V980.36H816.67zM819.00 957.01H821.33V980.36H819.00zM821.33 959.35H823.67V987.36H821.33zM823.67 959.35H826.00V989.69H823.67zM826.00 961.68H828.33V992.03H826.00zM828.33 968.68H830.67V989.69H828.33zM830.67 968.68H833.00V989.69H830.67zM833.00 971.02H835.33V989.69H833.00zM835.33 971.02H837.67V992.03H835.33zM837.67 971.02H840.00V994.36H837.67zM840.00 971.02H842.33V996.70H840.00zM842.33 973.35H844.67V996.70H842.33zM844.67 973.35H847.00V996.70H844.67zM847.00 973.35H849.33V994.36H847.00zM849.33 973.35H851.67V994.36H849.33zM851.67 973.35H854.00V994.36H851.67zM854.00 973.35H856.33V994.36H854.00zM856.33 973.35H858.67V994.36H856.33zM858.67 975.69H861.00V996.70H858.67zM861.00 978.02H863.33V999.03H861.00zM863.33 978.02H865.67V1001.36H863.33zM865.67 978.02H868.00V1003.70H865.67zM868.00 978.02H870.33V1003.70H868.00zM870.33 980.36H872.67V1003.70H870.33zM872.67 982.69H875.00V1006.03H872.67zM875.00 982.69H877.33V1008.37H875.00zM877.33 985.02H879.67V1008.37H877.33zM879.67 987.36H882.00V1010.70H879.67zM882.00 989.69H884.33V1010.70H882.00zM884.33 989.69H886.67V1013.03H884.33zM886.67 992.03H889.00V1013.03H886.67zM889.00 992.03H891.33V1013.03H889.00zM891.33 992.03H893.67V1013.03H891.33zM893.67 992.03H896.00V1015.37H893.67zM896.00 994.36H898.33V1015.37H896.00zM898.33 994.36H900.67V1015.37H898.33zM900.67 996.70H903.00V1017.70H900.67zM903.00 996.70H905.33V1017.70H903.00zM905.33 996.70H907.67V1017.70H905.33zM907.67 999.03H910.00V1017.70H907.67zM910.00 996.70H912.33V1020.04H910.00zM912.33 999.03H914.67V1020.04H912.33zM914.67 1001.36H917.00V1020.04H914.67zM917.00 1001.36H919.33V1020.04H917.00zM919.33 1003.70H921.67V1022.37H919.33zM921.67 1003.70H924.00V1024.71H921.67zM924.00 1003.70H926.33V1024.71H924.00zM926.33 1003.70H928.67V1027.04H926.33zM928.67 1003.70H931.00V1029.37H928.67zM931.00 1003.70H933.33V1029.37H931.00zM933.33 1006.03H935.67V1027.04H933.33zM935.67 1006.03H938.00V1024.71H935.67zM938.00 1006.03H940.33V1027.04H938.00zM940.33 1006.03H942.67V1027.04H940.33zM942.67 1006.03H945.00V1029.37H942.67zM945.00 1006.03H947.33V1029.37H945.00zM947.33 1008.37H949.67V1029.37H947.33zM949.67 1008.37H952.00V1031.71H949.67zM952.00 1008.37H954.33V1031.71H952.00zM954.33 1010.70H956.67V1034.04H954.33zM956.67 1013.03H959.00V1034.04H956.67zM959.00 1013.03H961.33V1034.04H959.00zM961.33 1010.70H963.67V1031.71H961.33zM963.67 1010.70H966.00V1029.37H963.67zM966.00 1010.70H968.33V1031.71H966.00zM968.33 1010.70H970.67V1034.04H968.33zM970.67 1010.70H973.00V1034.04H970.67zM973.00 1010.70H975.33V1034.04H973.00zM975.33 1010.70H977.67V1034.04H975.33zM977.67 1010.70H980.00V1034.04H977.67zM980.00 1010.70H982.33V1031.71H980.00zM982.33 1010.70H984.67V1034.04H982.33zM984.67 1008.37H987.00V1034.04H984.67zM987.00 1008.37H989.33V1031.71H987.00zM989.33 1008.37H991.67V1031.71H989.33zM991.67 1010.70H994.00V1031.71H991.67zM994.00 1010.70H996.33V1034.04H994.00zM996.33 1010.70H998.67V1034.04H996.33zM998.67 1013.03H1001.00V1034.04H998.67zM1001.00 1015.37H1003.33V1034.04H1001.00zM1003.33 1015.37H1005.67V1034.04H1003.33zM1005.67 1015.37H1008.00V1036.38H1005.67zM1008.00 1015.37H1010.33V1034.04H1008.00zM1010.33 1013.03H1012.67V1034.04H1010.33zM1012.67 1010.70H1015.00V1036.38H1012.67zM1015.00 1010.70H1017.33V1036.38H1015.00zM1017.33 1010.70H1019.67V1036.38H1017.33zM1019.67 1015.37H1022.00V1036.38H1019.67zM1022.00 1017.70H1024.33V1038.71H1022.00zM1024.33 1017.70H1026.67V1038.71H1024.33zM1026.67 1017.70H1029.00V1038.71H1026.67zM1029.00 1017.70H1031.33V1038.71H1029.00zM1031.33 1020.04H1033.67V1041.04H1031.33zM1033.67 1017.70H1036.00V1043.38H1033.67zM1036.00 1017.70H1038.33V1043.38H1036.00zM1038.33 1020.04H1040.67V1043.38H1038.33zM1040.67 1017.70H1043.00V1041.04H1040.67zM1043.00 1017.70H1045.33V1038.71H1043.00zM1045.33 1017.70H1047.67V1041.04H1045.33zM1047.67 1017.70H1050.00V1041.04H1047.67zM1050.00 1020.04H1052.33V1041.04H1050.00zM1052.33 1020.04H1054.67V1043.38H1052.33zM1054.67 1020.04H1057.00V1043.38H1054.67zM1057.00 1022.37H1059.33V1043.38H1057.00zM1059.33 1022.37H1061.67V1041.04H1059.33zM1061.67 1020.04H1064.00V1038.71H1061.67zM1064.00 1020.04H1066.33V1038.71H1064.00zM1066.33 1022.37H1068.67V1041.04H1066.33zM1068.67 1022.37H1071.00V1043.38H1068.67zM1071.00 1022.37H1073.33V1043.38H1071.00zM1073.33 1022.37H1075.67V1043.38H1073.33zM1075.67 1022.37H1078.00V1041.04H1075.67zM1078.00 1022.37H1080.33V1041.04H1078.00zM1080.33 1022.37H1082.67V1041.04H1080.33zM1082.67 1022.37H1085.00V1041.04H1082.67zM1085.00 1022.37H1087.33V1038.71H1085.00zM1087.33 1022.37H1089.67V1038.71H1087.33zM1089.67 1022.37H1092.00V1038.71H1089.67zM1092.00 1020.04H1094.33V1038.71H1092.00zM1094.33 1017.70H1096.67V1041.04H1094.33zM1096.67 1017.70H1099.00V1041.04H1096.67zM1099.00 1017.70H1101.33V1043.38H1099.00zM1101.33 1020.04H1103.67V1043.38H1101.33zM1103.67 1022.37H1106.00V1043.38H1103.67zM1106.00 1024.71H1108.33V1043.38H1106.00zM1108.33 1024.71H1110.67V1043.38H1108.33zM1110.67 1027.04H1113.00V1043.38H1110.67zM1113.00 1027.04H1115.33V1043.38H1113.00zM1115.33 1027.04H1117.67V1043.38H1115.33zM1117.67 1027.04H1120.00V1045.71H1117.67zM1120.00 1029.37H1122.33V1045.71H1120.00zM1122.33 1029.37H1124.67V1045.71H1122.33zM1124.67 1029.37H1127.00V1045.71H1124.67zM1127.00 1027.04H1129.33V1045.71H1127.00zM1129.33 1024.71H1131.67V1045.71H1129.33zM1131.67 1024.71H1134.00V1045.71H1131.67zM1134.00 1027.04H1136.33V1045.71H1134.00zM1136.33 1029.37H1138.67V1045.71H1136.33zM1138.67 1029.37H1141.00V1045.71H1138.67zM1141.00 1029.37H1143.33V1045.71H1141.00zM1143.33 1029.37H1145.67V1045.71H1143.33zM1145.67 1027.04H1148.00V1045.71H1145.67zM1148.00 1027.04H1150.33V1045.71H1148.00zM1150.33 1027.04H1152.67V1048.05H1150.33zM1152.67 1027.04H1155.00V1048.05H1152.67zM1155.00 1024.71H1157.33V1048.05H1155.00zM1157.33 1024.71H1159.67V1048.05H1157.33zM1159.67 1027.04H1162.00V1045.71H1159.67zM1162.00 1029.37H1164.33V1045.71H1162.00zM1164.33 1029.37H1166.67V1048.05H1164.33zM1166.67 1029.37H1169.00V1048.05H1166.67zM1169.00 1029.37H1171.33V1050.38H1169.00zM1171.33 1029.37H1173.67V1050.38H1171.33zM1173.67 1029.37H1176.00V1050.38H1173.67zM1176.00 1029.37H1178.33V1050.38H1176.00zM1178.33 1031.71H1180.67V1050.38H1178.33zM1180.67 1034.04H1183.00V1050.38H1180.67zM1183.00 1031.71H1185.33V1050.38H1183.00zM1185.33 1031.71H1187.67V1052.72H1185.33zM1187.67 1034.04H1190.00V1052.72H1187.67zM1190.00 1034.04H1192.33V1050.38H1190.00zM1192.33 1034.04H1194.67V1050.38H1192.33zM1194.67 1034.04H1197.00V1050.38H1194.67zM1197.00 1034.04H1199.33V1052.72H1197.00zM1199.33 1034.04H1201.67V1052.72H1199.33zM1201.67 1034.04H1204.00V1052.72H1201.67zM1204.00 1034.04H1206.33V1052.72H1204.00zM1206.33 1034.04H1208.67V1055.05H1206.33zM1208.67 1036.38H1211.00V1055.05H1208.67zM1211.00 1036.38H1213.33V1055.05H1211.00zM1213.33 1036.38H1215.67V1052.72H1213.33zM1215.67 1036.38H1218.00V1055.05H1215.67zM1218.00 1036.38H1220.33V1055.05H1218.00zM1220.33 1036.38H1222.67V1052.72H1220.33zM1222.67 1036.38H1225.00V1055.05H1222.67zM1225.00 1036.38H1227.33V1055.05H1225.00zM1227.33 1038.71H1229.67V1052.72H1227.33zM1229.67 1038.71H1232.00V1057.38H1229.67zM1232.00 1038.71H1234.33V1059.72H1232.00zM1234.33 1038.71H1236.67V1059.72H1234.33zM1236.67 1038.71H1239.00V1059.72H1236.67zM1239.00 1041.04H1241.33V1059.72H1239.00zM1241.33 1041.04H1243.67V1059.72H1241.33zM1243.67 1041.04H1246.00V1059.72H1243.67zM1246.00 1038.71H1248.33V1059.72H1246.00zM1248.33 1038.71H1250.67V1057.38H1248.33zM1250.67 1041.04H1253.00V1057.38H1250.67zM1253.00 1043.38H1255.33V1059.72H1253.00zM1255.33 1041.04H1257.67V1062.05H1255.33zM1257.67 1041.04H1260.00V1062.05H1257.67zM1260.00 1041.04H1262.33V1062.05H1260.00zM1262.33 1041.04H1264.67V1062.05H1262.33zM1264.67 1043.38H1267.00V1062.05H1264.67zM1267.00 1043.38H1269.33V1062.05H1267.00zM1269.33 1043.38H1271.67V1062.05H1269.33zM1271.67 1041.04H1274.00V1062.05H1271.67zM1274.00 1043.38H1276.33V1062.05H1274.00zM1276.33 1043.38H1278.67V1062.05H1276.33zM1278.67 1043.38H1281.00V1062.05H1278.67zM1281.00 1043.38H1283.33V1062.05H1281.00zM1283.33 1043.38H1285.67V1062.05H1283.33zM1285.67 1041.04H1288.00V1062.05H1285.67zM1288.00 1038.71H1290.33V1062.05H1288.00zM1290.33 1041.04H1292.67V1062.05H1290.33zM1292.67 1043.38H1295.00V1062.05H1292.67zM1295.00 1045.71H1297.33V1062.05H1295.00zM1297.33 1045.71H1299.67V1064.39H1297.33zM1299.67 1045.71H1302.00V1064.39H1299.67zM1302.00 1045.71H1304.33V1064.39H1302.00zM1304.33 1045.71H1306.67V1064.39H1304.33zM1306.67 1045.71H1309.00V1064.39H1306.67zM1309.00 1045.71H1311.33V1064.39H1309.00zM1311.33 1045.71H1313.67V1064.39H1311.33zM1313.67 1045.71H1316.00V1064.39H1313.67zM1316.00 1045.71H1318.33V1064.39H1316.00zM1318.33 1045.71H1320.67V1064.39H1318.33zM1320.67 1048.05H1323.00V1064.39H1320.67zM1323.00 1048.05H1325.33V1064.39H1323.00zM1325.33 1045.71H1327.67V1064.39H1325.33zM1327.67 1048.05H1330.00V1064.39H1327.67zM1330.00 1048.05H1332.33V1066.72H1330.00zM1332.33 1050.38H1334.67V1066.72H1332.33zM1334.67 1050.38H1337.00V1064.39H1334.67zM1337.00 1048.05H1339.33V1064.39H1337.00zM1339.33 1048.05H1341.67V1066.72H1339.33zM1341.67 1048.05H1344.00V1066.72H1341.67zM1344.00 1048.05H1346.33V1066.72H1344.00zM1346.33 1048.05H1348.67V1066.72H1346.33zM1348.67 1048.05H1351.00V1066.72H1348.67zM1351.00 1050.38H1353.33V1069.05H1351.00zM1353.33 1050.38H1355.67V1069.05H1353.33zM1355.67 1048.05H1358.00V1066.72H1355.67zM1358.00 1045.71H1360.33V1066.72H1358.00zM1360.33 1045.71H1362.67V1066.72H1360.33zM1362.67 1048.05H1365.00V1066.72H1362.67zM1365.00 1050.38H1367.33V1069.05H1365.00zM1367.33 1050.38H1369.67V1069.05H1367.33zM1369.67 1048.05H1372.00V1069.05H1369.67zM1372.00 1048.05H1374.33V1066.72H1372.00zM1374.33 1050.38H1376.67V1071.39H1374.33zM1376.67 1050.38H1379.00V1071.39H1376.67zM1379.00 1050.38H1381.33V1071.39H1379.00zM1381.33 1050.38H1383.67V1069.05H1381.33zM1383.67 1052.72H1386.00V1069.05H1383.67zM1386.00 1052.72H1388.33V1069.05H1386.00zM1388.33 1050.38H1390.67V1069.05H1388.33zM1390.67 1050.38H1393.00V1071.39H1390.67zM1393.00 1050.38H1395.33V1071.39H1393.00zM1395.33 1050.38H1397.67V1069.05H1395.33zM1397.67 1052.72H1400.00V1069.05H1397.67zM1400.00 1050.38H1402.33V1069.05H1400.00zM1402.33 1050.38H1404.67V1071.39H1402.33zM1404.67 1048.05H1407.00V1071.39H1404.67zM1407.00 1048.05H1409.33V1069.05H1407.00zM1409.33 1050.38H1411.67V1071.39H1409.33zM1411.67 1052.72H1414.00V1071.39H1411.67zM1414.00 1052.72H1416.33V1071.39H1414.00zM1416.33 1052.72H1418.67V1071.39H1416.33zM1418.67 1052.72H1421.00V1071.39H1418.67zM1421.00 1052.72H1423.33V1071.39H1421.00zM1423.33 1052.72H1425.67V1071.39H1423.33zM1425.67 1052.72H1428.00V1071.39H1425.67zM1428.00 1052.72H1430.33V1071.39H1428.00zM1430.33 1052.72H1432.67V1071.39H1430.33zM1432.67 1052.72H1435.00V1071.39H1432.67zM1435.00 1052.72H1437.33V1071.39H1435.00zM1437.33 1052.72H1439.67V1069.05H1437.33zM1439.67 1052.72H1442.00V1069.05H1439.67zM1442.00 1052.72H1444.33V1069.05H1442.00zM1444.33 1052.72H1446.67V1069.05H1444.33zM1446.67 1052.72H1449.00V1071.39H1446.67zM1449.00 1052.72H1451.33V1071.39H1449.00zM1451.33 1052.72H1453.67V1071.39H1451.33zM1453.67 1052.72H1456.00V1071.39H1453.67zM1456.00 1055.05H1458.33V1071.39H1456.00zM1458.33 1052.72H1460.67V1071.39H1458.33zM1460.67 1052.72H1463.00V1071.39H1460.67zM1463.00 1052.72H1465.33V1071.39H1463.00zM1465.33 1055.05H1467.67V1071.39H1465.33zM1467.67 1052.72H1470.00V1071.39H1467.67zM1470.00 1052.72H1472.33V1071.39H1470.00zM1472.33 1052.72H1474.67V1073.72H1472.33zM1474.67 1052.72H1477.00V1073.72H1474.67zM1477.00 1052.72H1479.33V1073.72H1477.00zM1479.33 1052.72H1481.67V1073.72H1479.33zM1481.67 1052.72H1484.00V1073.72H1481.67zM1484.00 1052.72H1486.33V1073.72H1484.00zM1486.33 1052.72H1488.67V1071.39H1486.33zM1488.67 1052.72H1491.00V1073.72H1488.67zM1491.00 1052.72H1493.33V1073.72H1491.00zM1493.33 1055.05H1495.67V1073.72H1493.33zM1495.67 1055.05H1498.00V1073.72H1495.67zM1498.00 1055.05H1500.33V1071.39H1498.00zM1500.33 1052.72H1502.67V1071.39H1500.33zM1502.67 1052.72H1505.00V1071.39H1502.67zM1505.00 1052.72H1507.33V1071.39H1505.00zM1507.33 1052.72H1509.67V1071.39H1507.33zM1509.67 1055.05H1512.00V1071.39H1509.67zM1512.00 1055.05H1514.33V1071.39H1512.00zM1514.33 1055.05H1516.67V1071.39H1514.33zM1516.67 1052.72H1519.00V1071.39H1516.67zM1519.00 1052.72H1521.33V1071.39H1519.00zM1521.33 1052.72H1523.67V1073.72H1521.33zM1523.67 1052.72H1526.00V1073.72H1523.67zM1526.00 1052.72H1528.33V1071.39H1526.00zM1528.33 1055.05H1530.67V1071.39H1528.33zM1530.67 1052.72H1533.00V1073.72H1530.67zM1533.00 1055.05H1535.33V1073.72H1533.00zM1535.33 1055.05H1537.67V1071.39H1535.33zM1537.67 1055.05H1540.00V1071.39H1537.67zM1540.00 1055.05H1542.33V1071.39H1540.00zM1542.33 1055.05H1544.67V1071.39H1542.33zM1544.67 1055.05H1547.00V1073.72H1544.67zM1547.00 1055.05H1549.33V1073.72H1547.00zM1549.33 1055.05H1551.67V1073.72H1549.33zM1551.67 1055.05H1554.00V1071.39H1551.67zM1554.00 1055.05H1556.33V1073.72H1554.00zM1556.33 1055.05H1558.67V1073.72H1556.33zM1558.67 1055.05H1561.00V1073.72H1558.67zM1561.00 1055.05H1563.33V1073.72H1561.00zM1563.33 1055.05H1565.67V1071.39H1563.33zM1565.67 1057.38H1568.00V1073.72H1565.67zM1568.00 1055.05H1570.33V1073.72H1568.00zM1570.33 1055.05H1572.67V1071.39H1570.33zM1572.67 1055.05H1575.00V1071.39H1572.67zM1575.00 1055.05H1577.33V1073.72H1575.00zM1577.33 1057.38H1579.67V1073.72H1577.33zM1579.67 1057.38H1582.00V1071.39H1579.67zM1582.00 1057.38H1584.33V1073.72H1582.00zM1584.33 1055.05H1586.67V1073.72H1584.33zM1586.67 1055.05H1589.00V1073.72H1586.67zM1589.00 1055.05H1591.33V1071.39H1589.00zM1591.33 1055.05H1593.67V1071.39H1591.33zM1593.67 1055.05H1596.00V1073.72H1593.67zM1596.00 1055.05H1598.33V1073.72H1596.00zM1598.33 1055.05H1600.67V1076.06H1598.33zM1600.67 1055.05H1603.00V1076.06H1600.67zM1603.00 1055.05H1605.33V1076.06H1603.00zM1605.33 1057.38H1607.67V1076.06H1605.33zM1607.67 1057.38H1610.00V1073.72H1607.67zM1610.00 1057.38H1612.33V1073.72H1610.00zM1612.33 1057.38H1614.67V1073.72H1612.33zM1614.67 1057.38H1617.00V1076.06H1614.67zM1617.00 1057.38H1619.33V1076.06H1617.00zM1619.33 1055.05H1621.67V1076.06H1619.33zM1621.67 1057.38H1624.00V1076.06H1621.67zM1624.00 1057.38H1626.33V1076.06H1624.00zM1626.33 1057.38H1628.67V1073.72H1626.33zM1628.67 1057.38H1631.00V1076.06H1628.67zM1631.00 1057.38H1633.33V1076.06H1631.00zM1633.33 1057.38H1635.67V1076.06H1633.33zM1635.67 1057.38H1638.00V1073.72H1635.67zM1638.00 1057.38H1640.33V1076.06H1638.00zM1640.33 1057.38H1642.67V1076.06H1640.33zM1642.67 1057.38H1645.00V1076.06H1642.67zM1645.00 1057.38H1647.33V1076.06H1645.00zM1647.33 1059.72H1649.67V1076.06H1647.33zM1649.67 1059.72H1652.00V1078.39H1649.67zM1652.00 1059.72H1654.33V1078.39H1652.00zM1654.33 1059.72H1656.67V1078.39H1654.33zM1656.67 1059.72H1659.00V1078.39H1656.67zM1659.00 1059.72H1661.33V1076.06H1659.00zM1661.33 1059.72H1663.67V1076.06H1661.33zM1663.67 1059.72H1666.00V1076.06H1663.67zM1666.00 1059.72H1668.33V1076.06H1666.00zM1668.33 1059.72H1670.67V1076.06H1668.33zM1670.67 1059.72H1673.00V1076.06H1670.67zM1673.00 1062.05H1675.33V1078.39H1673.00zM1675.33 1062.05H1677.67V1078.39H1675.33zM1677.67 1062.05H1680.00V1078.39H1677.67zM1680.00 1062.05H1682.33V1078.39H1680.00zM1682.33 1059.72H1684.67V1076.06H1682.33zM1684.67 1057.38H1687.00V1078.39H1684.67zM1687.00 1055.05H1689.33V1078.39H1687.00zM1689.33 1055.05H1691.67V1078.39H1689.33zM1691.67 1057.38H1694.00V1078.39H1691.67zM1694.00 1057.38H1696.33V1078.39H1694.00zM1696.33 1059.72H1698.67V1078.39H1696.33zM1698.67 1062.05H1701.00V1078.39H1698.67zM1701.00 1062.05H1703.33V1078.39H1701.00zM1703.33 1062.05H1705.67V1078.39H1703.33zM1705.67 1059.72H1708.00V1080.73H1705.67zM1708.00 1059.72H1710.33V1080.73H1708.00zM1710.33 1062.05H1712.67V1078.39H1710.33zM1712.67 1062.05H1715.00V1078.39H1712.67zM1715.00 1059.72H1717.33V1080.73H1715.00zM1717.33 1062.05H1719.67V1080.73H1717.33zM1719.67 1062.05H1722.00V1080.73H1719.67zM1722.00 1062.05H1724.33V1083.06H1722.00zM1724.33 1062.05H1726.67V1083.06H1724.33zM1726.67 1062.05H1729.00V1080.73H1726.67zM1729.00 1064.39H1731.33V1078.39H1729.00zM1731.33 1062.05H1733.67V1078.39H1731.33zM1733.67 1062.05H1736.00V1078.39H1733.67zM1736.00 1062.05H1738.33V1078.39H1736.00zM1738.33 1062.05H1740.67V1078.39H1738.33zM1740.67 1062.05H1743.00V1080.73H1740.67zM1743.00 1064.39H1745.33V1078.39H1743.00zM1745.33 1062.05H1747.67V1080.73H1745.33zM1747.67 1062.05H1750.00V1080.73H1747.67zM1750.00 1064.39H1752.33V1080.73H1750.00zM1752.33 1062.05H1754.67V1078.39H1752.33zM1754.67 1064.39H1757.00V1080.73H1754.67zM1757.00 1064.39H1759.33V1080.73H1757.00zM1759.33 1064.39H1761.67V1080.73H1759.33zM1761.67 1064.39H1764.00V1080.73H1761.67zM1764.00 1066.72H1766.33V1083.06H1764.00zM1766.33 1064.39H1768.67V1083.06H1766.33zM1768.67 1064.39H1771.00V1083.06H1768.67zM1771.00 1064.39H1773.33V1083.06H1771.00zM1773.33 1064.39H1775.67V1083.06H1773.33zM1775.67 1064.39H1778.00V1085.39H1775.67zM1778.00 1066.72H1780.33V1085.39H1778.00zM1780.33 1066.72H1782.67V1085.39H1780.33zM1782.67 1066.72H1785.00V1085.39H1782.67zM1785.00 1066.72H1787.33V1083.06H1785.00zM1787.33 1066.72H1789.67V1083.06H1787.33zM1789.67 1064.39H1792.00V1085.39H1789.67zM1792.00 1064.39H1794.33V1085.39H1792.00zM1794.33 1064.39H1796.67V1085.39H1794.33zM1796.67 1066.72H1799.00V1085.39H1796.67zM1799.00 1066.72H1801.33V1083.06H1799.00zM1801.33 1066.72H1803.67V1083.06H1801.33zM1803.67 1066.72H1806.00V1083.06H1803.67zM1806.00 1066.72H1808.33V1083.06H1806.00zM1808.33 1066.72H1810.67V1083.06H1808.33zM1810.67 1064.39H1813.00V1083.06H1810.67zM1813.00 1064.39H1815.33V1085.39H1813.00zM1815.33 1064.39H1817.67V1083.06H1815.33zM1817.67 1066.72H1820.00V1083.06H1817.67zM1820.00 1064.39H1822.33V1085.39H1820.00zM1822.33 1064.39H1824.67V1085.39H1822.33zM1824.67 1064.39H1827.00V1085.39H1824.67zM1827.00 1066.72H1829.33V1085.39H1827.00zM1829.33 1069.05H1831.67V1085.39H1829.33zM1831.67 1069.05H1834.00V1085.39H1831.67zM1834.00 1066.72H1836.33V1087.73H1834.00zM1836.33 1066.72H1838.67V1087.73H1836.33zM1838.67 1066.72H1841.00V1085.39H1838.67zM1841.00 1066.72H1843.33V1085.39H1841.00zM1843.33 1066.72H1845.67V1085.39H1843.33zM1845.67 1069.05H1848.00V1085.39H1845.67zM1848.00 1069.05H1850.33V1085.39H1848.00zM1850.33 1069.05H1852.67V1087.73H1850.33zM1852.67 1071.39H1855.00V1087.73H1852.67zM1855.00 1071.39H1857.33V1087.73H1855.00zM1857.33 1071.39H1859.67V1087.73H1857.33zM1859.67 1069.05H1862.00V1087.73H1859.67zM1862.00 1069.05H1864.33V1085.39H1862.00zM1864.33 1069.05H1866.67V1085.39H1864.33zM1866.67 1071.39H1869.00V1085.39H1866.67zM1869.00 1071.39H1871.33V1085.39H1869.00zM1871.33 1071.39H1873.67V1087.73H1871.33zM1873.67 1071.39H1876.00V1087.73H1873.67zM1876.00 1071.39H1878.33V1087.73H1876.00zM1878.33 1071.39H1880.67V1087.73H1878.33zM1880.67 1071.39H1883.00V1090.06H1880.67zM1883.00 1071.39H1885.33V1087.73H1883.00zM1885.33 1069.05H1887.67V1087.73H1885.33zM1887.67 1069.05H1890.00V1087.73H1887.67zM1890.00 1069.05H1892.33V1087.73H1890.00zM1892.33 1069.05H1894.67V1090.06H1892.33zM1894.67 1071.39H1897.00V1092.40H1894.67zM1897.00 1069.05H1899.33V1092.40H1897.00zM1899.33 1071.39H1901.67V1090.06H1899.33zM1901.67 1071.39H1904.00V1090.06H1901.67zM1904.00 1073.72H1906.33V1090.06H1904.00zM1906.33 1071.39H1908.67V1090.06H1906.33zM1908.67 1071.39H1911.00V1090.06H1908.67zM1911.00 1071.39H1913.33V1087.73H1911.00zM1913.33 1069.05H1915.67V1090.06H1913.33zM1915.67 1069.05H1918.00V1090.06H1915.67zM1918.00 1071.39H1920.33V1090.06H1918.00zM1920.33 1071.39H1922.67V1090.06H1920.33zM1922.67 1073.72H1925.00V1090.06H1922.67zM1925.00 1073.72H1927.33V1090.06H1925.00zM1927.33 1073.72H1929.67V1090.06H1927.33zM1929.67 1073.72H1932.00V1090.06H1929.67zM1932.00 1073.72H1934.33V1090.06H1932.00zM1934.33 1073.72H1936.67V1090.06H1934.33zM1936.67 1071.39H1939.00V1090.06H1936.67zM1939.00 1071.39H1941.33V1090.06H1939.00zM1941.33 1071.39H1943.67V1090.06H1941.33zM1943.67 1073.72H1946.00V1090.06H1943.67zM1946.00 1073.72H1948.33V1087.73H1946.00zM1948.33 1073.72H1950.67V1090.06H1948.33zM1950.67 1073.72H1953.00V1090.06H1950.67zM1953.00 1071.39H1955.33V1087.73H1953.00zM1955.33 1071.39H1957.67V1090.06H1955.33zM1957.67 1071.39H1960.00V1090.06H1957.67zM1960.00 1073.72H1962.33V1090.06H1960.00zM1962.33 1073.72H1964.67V1090.06H1962.33zM1964.67 1073.72H1967.00V1090.06H1964.67zM1967.00 1073.72H1969.33V1090.06H1967.00zM1969.33 1073.72H1971.67V1090.06H1969.33zM1971.67 1073.72H1974.00V1090.06H1971.67zM1974.00 1073.72H1976.33V1090.06H1974.00zM1976.33 1073.72H1978.67V1092.40H1976.33zM1978.67 1076.06H1981.00V1092.40H1978.67zM1981.00 1076.06H1983.33V1092.40H1981.00zM1983.33 1073.72H1985.67V1090.06H1983.33zM1985.67 1073.72H1988.00V1090.06H1985.67zM1988.00 1073.72H1990.33V1092.40H1988.00zM1990.33 1073.72H1992.67V1092.40H1990.33zM1992.67 1073.72H1995.00V1090.06H1992.67zM1995.00 1073.72H1997.33V1090.06H1995.00zM1997.33 1073.72H1999.67V1090.06H1997.33zM1999.67 1073.72H2002.00V1092.40H1999.67zM2002.00 1076.06H2004.33V1092.40H2002.00zM2004.33 1076.06H2006.67V1092.40H2004.33zM2006.67 1073.72H2009.00V1092.40H2006.67zM2009.00 1073.72H2011.33V1092.40H2009.00zM2011.33 1073.72H2013.67V1092.40H2011.33zM2013.67 1073.72H2016.00V1092.40H2013.67zM2016.00 1073.72H2018.33V1092.40H2016.00zM2018.33 1073.72H2020.67V1092.40H2018.33zM2020.67 1073.72H2023.00V1092.40H2020.67zM2023.00 1073.72H2025.33V1092.40H2023.00zM2025.33 1076.06H2027.67V1092.40H2025.33zM2027.67 1076.06H2030.00V1092.40H2027.67zM2030.00 1076.06H2032.33V1092.40H2030.00zM2032.33 1076.06H2034.67V1092.40H2032.33zM2034.67 1076.06H2037.00V1090.06H2034.67zM2037.00 1076.06H2039.33V1092.40H2037.00zM2039.33 1073.72H2041.67V1092.40H2039.33zM2041.67 1073.72H2044.00V1092.40H2041.67zM2044.00 1076.06H2046.33V1094.73H2044.00zM2046.33 1076.06H2048.67V1094.73H2046.33zM2048.67 1076.06H2051.00V1094.73H2048.67zM2051.00 1076.06H2053.33V1092.40H2051.00zM2053.33 1076.06H2055.67V1092.40H2053.33zM2055.67 1076.06H2058.00V1092.40H2055.67zM2058.00 1076.06H2060.33V1092.40H2058.00zM2060.33 1076.06H2062.67V1092.40H2060.33zM2062.67 1078.39H2065.00V1092.40H2062.67zM2065.00 1078.39H2067.33V1092.40H2065.00zM2067.33 1080.73H2069.67V1090.06H2067.33z"/>
<path shape-rendering="crispEdges" fill="#008000" d="M212.33 504.18H214.67V520.52H212.33zM214.67 501.85H217.00V529.86H214.67zM217.00 499.51H219.33V539.20H217.00zM219.33 499.51H221.67V560.20H219.33zM221.67 501.85H224.00V567.21H221.67zM224.00 501.85H226.33V576.54H224.00zM226.33 518.19H228.67V581.21H226.33zM228.67 529.86H231.00V585.88H228.67zM231.00 546.20H233.33V588.21H231.00zM233.33 557.87H235.67V590.55H233.33zM235.67 562.54H238.00V597.55H235.67zM238.00 562.54H240.33V602.22H238.00zM240.33 564.87H242.67V604.55H240.33zM242.67 569.54H245.00V604.55H242.67zM245.00 576.54H247.33V604.55H245.00zM247.33 578.88H249.67V604.55H247.33zM249.67 576.54H252.00V604.55H249.67zM252.00 576.54H254.33V604.55H252.00zM254.33 578.88H256.67V604.55H254.33zM256.67 581.21H259.00V606.89H256.67zM259.00 581.21H261.33V604.55H259.00zM261.33 578.88H263.67V604.55H261.33zM263.67 578.88H266.00V604.55H263.67zM266.00 578.88H268.33V604.55H266.00zM268.33 578.88H270.67V606.89H268.33zM270.67 576.54H273.00V606.89H270.67zM273.00 576.54H275.33V604.55H273.00zM275.33 576.54H277.67V604.55H275.33zM277.67 578.88H280.00V606.89H277.67zM280.00 578.88H282.33V609.22H280.00zM282.33 578.88H284.67V611.56H282.33zM284.67 581.21H287.00V611.56H284.67zM287.00 581.21H289.33V611.56H287.00zM289.33 581.21H291.67V609.22H289.33zM291.67 578.88H294.00V604.55H291.67zM294.00 576.54H296.33V604.55H294.00zM296.33 576.54H298.67V606.89H296.33zM298.67 576.54H301.00V609.22H298.67zM301.00 578.88H303.33V611.56H301.00zM303.33 585.88H305.67V616.22H303.33zM305.67 588.21H308.00V618.56H305.67zM308.00 588.21H310.33V620.89H308.00zM310.33 588.21H312.67V620.89H310.33zM312.67 588.21H315.00V620.89H312.67zM315.00 588.21H317.33V618.56H315.00zM317.33 588.21H319.67V616.22H317.33zM319.67 588.21H322.00V616.22H319.67zM322.00 585.88H324.33V613.89H322.00zM324.33 585.88H326.67V611.56H324.33zM326.67 588.21H329.00V611.56H326.67zM329.00 588.21H331.33V611.56H329.00zM331.33 588.21H333.67V613.89H331.33zM333.67 585.88H336.00V616.22H333.67zM336.00 585.88H338.33V616.22H336.00zM338.33 585.88H340.67V613.89H338.33zM340.67 588.21H343.00V611.56H340.67zM343.00 581.21H345.33V611.56H343.00zM345.33 578.88H347.67V609.22H345.33zM347.67 576.54H350.00V606.89H347.67zM350.00 576.54H352.33V604.55H350.00zM352.33 574.21H354.67V602.22H352.33zM354.67 569.54H357.00V597.55H354.67zM357.00 567.21H359.33V597.55H357.00zM359.33 562.54H361.67V595.22H359.33zM361.67 562.54H364.00V595.22H361.67zM364.00 562.54H366.33V592.88H364.00zM366.33 564.87H368.67V590.55H366.33zM368.67 567.21H371.00V590.55H368.67zM371.00 567.21H373.33V592.88H371.00zM373.33 562.54H375.67V592.88H373.33zM375.67 553.20H378.00V590.55H375.67zM378.00 553.20H380.33V588.21H378.00zM380.33 550.87H382.67V583.55H380.33zM382.67 548.53H385.00V581.21H382.67zM385.00 546.20H387.33V578.88H385.00zM387.33 539.20H389.67V571.87H387.33zM389.67 534.53H392.00V569.54H389.67zM392.00 534.53H394.33V564.87H392.00zM394.33 532.19H396.67V557.87H394.33zM396.67 522.86H399.00V525.19H396.67zM396.67 527.52H399.00V555.53H396.67zM399.00 520.52H401.33V553.20H399.00zM401.33 513.52H403.67V550.87H401.33zM403.67 506.52H406.00V546.20H403.67zM406.00 504.18H408.33V539.20H406.00zM408.33 494.85H410.67V534.53H408.33zM410.67 490.18H413.00V534.53H410.67zM413.00 480.84H415.33V532.19H413.00zM415.33 478.51H417.67V518.19H415.33zM417.67 469.17H420.00V515.85H417.67zM420.00 466.84H422.33V513.52H420.00zM422.33 466.84H424.67V504.18H422.33zM424.67 462.17H427.00V497.18H424.67zM427.00 459.83H429.33V490.18H427.00zM429.33 450.50H431.67V487.84H429.33zM431.67 445.83H434.00V483.18H431.67zM434.00 438.83H436.33V480.84H434.00zM436.33 434.16H438.67V478.51H436.33zM438.67 431.82H441.00V473.84H438.67zM441.00 424.82H443.33V466.84H441.00zM443.33 422.49H445.67V457.50H443.33zM445.67 417.82H448.00V450.50H445.67zM448.00 415.48H450.33V448.16H448.00zM450.33 410.82H452.67V443.49H450.33zM452.67 401.48H455.00V438.83H452.67zM455.00 399.14H457.33V436.49H455.00zM457.33 396.81H459.67V429.49H457.33zM459.67 399.14H462.00V427.16H459.67zM462.00 396.81H464.33V424.82H462.00zM464.33 394.48H466.67V422.49H464.33zM466.67 389.81H469.00V420.15H466.67zM469.00 385.14H471.33V417.82H469.00zM471.33 382.81H473.67V413.15H471.33zM473.67 382.81H476.00V410.82H473.67zM476.00 382.81H478.33V408.48H476.00zM478.33 378.14H480.67V406.15H478.33zM480.67 375.80H483.00V406.15H480.67zM483.00 375.80H485.33V408.48H483.00zM485.33 375.80H487.67V413.15H485.33zM487.67 378.14H490.00V415.48H487.67zM490.00 380.47H492.33V415.48H490.00zM492.33 380.47H494.67V415.48H492.33zM494.67 371.13H497.00V413.15H494.67zM497.00 368.80H499.33V408.48H497.00zM499.33 347.79H501.67V406.15H499.33zM501.67 254.43H504.00V403.81H501.67zM504.00 249.76H506.33V389.81H504.00zM506.33 247.42H508.67V387.47H506.33zM508.67 245.09H511.00V410.82H508.67zM511.00 245.09H513.33V413.15H511.00zM513.33 247.42H515.67V415.48H513.33zM515.67 249.76H518.00V420.15H515.67zM518.00 294.11H520.33V422.49H518.00zM520.33 389.81H522.67V424.82H520.33zM522.67 399.14H525.00V429.49H522.67zM525.00 401.48H527.33V431.82H525.00zM527.33 403.81H529.67V434.16H527.33zM529.67 406.15H532.00V438.83H529.67zM532.00 406.15H534.33V438.83H532.00zM532.00 441.16H534.33V448.16H532.00zM534.33 408.48H536.67V450.50H534.33zM536.67 410.82H539.00V452.83H536.67zM539.00 415.48H541.33V452.83H539.00zM541.33 422.49H543.67V452.83H541.33zM543.67 422.49H546.00V450.50H543.67zM546.00 420.15H548.33V450.50H546.00zM548.33 417.82H550.67V450.50H548.33zM550.67 415.48H553.00V448.16H550.67zM553.00 413.15H555.33V438.83H553.00zM555.33 403.81H557.67V438.83H555.33zM557.67 399.14H560.00V438.83H557.67zM560.00 394.48H562.33V436.49H560.00zM562.33 394.48H564.67V429.49H562.33zM564.67 392.14H567.00V427.16H564.67zM567.00 394.48H569.33V448.16H567.00zM569.33 396.81H571.67V473.84H569.33zM571.67 399.14H574.00V485.51H571.67zM574.00 401.48H576.33V490.18H574.00zM576.33 420.15H578.67V494.85H576.33zM578.67 436.49H581.00V506.52H578.67zM581.00 455.17H583.33V520.52H581.00zM583.33 469.17H585.67V522.86H583.33zM585.67 478.51H588.00V525.19H585.67zM588.00 490.18H590.33V525.19H588.00zM590.33 492.51H592.67V525.19H590.33zM592.67 497.18H595.00V529.86H592.67zM595.00 499.51H597.33V534.53H595.00zM597.33 508.85H599.67V534.53H597.33zM599.67 511.19H602.00V541.53H599.67zM602.00 513.52H604.33V543.86H602.00zM604.33 515.85H606.67V548.53H604.33zM606.67 520.52H609.00V555.53H606.67zM609.00 525.19H611.33V557.87H609.00zM611.33 529.86H613.67V564.87H611.33zM613.67 534.53H616.00V567.21H613.67zM616.00 536.86H618.33V567.21H616.00zM618.33 541.53H620.67V576.54H618.33zM620.67 548.53H623.00V578.88H620.67zM623.00 548.53H625.33V578.88H623.00zM625.33 548.53H627.67V578.88H625.33zM627.67 548.53H630.00V576.54H627.67zM630.00 548.53H632.33V581.21H630.00zM632.33 548.53H634.67V583.55H632.33zM634.67 550.87H637.00V585.88H634.67zM637.00 553.20H639.33V588.21H637.00zM639.33 557.87H641.67V590.55H639.33zM641.67 562.54H644.00V592.88H641.67zM644.00 567.21H646.33V595.22H644.00zM646.33 569.54H648.67V595.22H646.33zM648.67 567.21H651.00V597.55H648.67zM651.00 455.17H653.33V597.55H651.00zM653.33 172.73H655.67V597.55H653.33zM655.67 105.04H658.00V595.22H655.67zM658.00 102.70H660.33V592.88H658.00zM660.33 102.70H662.67V585.88H660.33zM662.67 102.70H665.00V602.22H662.67zM665.00 102.70H667.33V606.89H665.00zM667.33 107.37H669.67V613.89H667.33zM669.67 317.45H672.00V618.56H669.67zM672.00 541.53H674.33V618.56H672.00zM674.33 590.55H676.67V618.56H674.33zM676.67 590.55H679.00V620.89H676.67zM679.00 592.88H681.33V623.23H679.00zM681.33 599.88H683.67V625.56H681.33zM683.67 602.22H686.00V630.23H683.67zM686.00 604.55H688.33V632.56H686.00zM688.33 606.89H690.67V634.90H688.33zM690.67 606.89H693.00V637.23H690.67zM693.00 609.22H695.33V639.57H693.00zM695.33 611.56H697.67V641.90H695.33zM697.67 616.22H700.00V644.23H697.67zM700.00 616.22H702.33V644.23H700.00zM702.33 616.22H704.67V644.23H702.33zM704.67 618.56H707.00V644.23H704.67zM707.00 618.56H709.33V644.23H707.00zM709.33 618.56H711.67V646.57H709.33zM711.67 618.56H714.00V648.90H711.67zM714.00 620.89H716.33V648.90H714.00zM716.33 625.56H718.67V648.90H716.33zM718.67 623.23H721.00V653.57H718.67zM721.00 623.23H723.33V653.57H721.00zM723.33 613.89H725.67V655.90H723.33zM725.67 569.54H728.00V653.57H725.67zM728.00 560.20H730.33V653.57H728.00zM730.33 555.53H732.67V651.24H730.33zM732.67 553.20H735.00V639.57H732.67zM735.00 553.20H737.33V623.23H735.00zM737.33 555.53H739.67V602.22H737.33zM739.67 555.53H742.00V604.55H739.67zM742.00 560.20H744.33V620.89H742.00zM742.00 632.56H744.33V634.90H742.00zM744.33 569.54H746.67V639.57H744.33zM746.67 569.54H749.00V653.57H746.67zM749.00 571.87H751.33V658.24H749.00zM751.33 581.21H753.67V660.57H751.33zM753.67 604.55H756.00V662.91H753.67zM756.00 630.23H758.33V662.91H756.00zM758.33 641.90H760.67V665.24H758.33zM760.67 644.23H763.00V665.24H760.67zM763.00 644.23H765.33V665.24H763.00zM765.33 644.23H767.67V667.58H765.33zM767.67 646.57H770.00V672.24H767.67zM770.00 646.57H772.33V672.24H770.00zM772.33 648.90H774.67V672.24H772.33zM774.67 651.24H777.00V674.58H774.67zM777.00 651.24H779.33V674.58H777.00zM779.33 648.90H781.67V676.91H779.33zM781.67 648.90H784.00V676.91H781.67zM784.00 651.24H786.33V676.91H784.00zM786.33 651.24H788.67V676.91H786.33zM788.67 651.24H791.00V676.91H788.67zM791.00 651.24H793.33V679.25H791.00zM793.33 653.57H795.67V679.25H793.33zM795.67 653.57H798.00V679.25H795.67zM798.00 653.57H800.33V679.25H798.00zM800.33 648.90H802.67V679.25H800.33zM802.67 644.23H805.00V679.25H802.67zM805.00 641.90H807.33V676.91H805.00zM807.33 639.57H809.67V669.91H807.33zM809.67 639.57H812.00V672.24H809.67zM812.00 639.57H814.33V676.91H812.00zM814.33 641.90H816.67V679.25H814.33zM816.67 648.90H819.00V679.25H816.67zM819.00 655.90H821.33V679.25H819.00zM821.33 658.24H823.67V679.25H821.33zM823.67 653.57H826.00V681.58H823.67zM826.00 583.55H828.33V683.91H826.00zM828.33 354.80H830.67V683.91H828.33zM830.67 254.43H833.00V681.58H830.67zM833.00 252.09H835.33V679.25H833.00zM835.33 249.76H837.67V667.58H835.33zM837.67 249.76H840.00V674.58H837.67zM840.00 252.09H842.33V679.25H840.00zM842.33 256.76H844.67V681.58H842.33zM844.67 392.14H847.00V683.91H844.67zM847.00 611.56H849.33V686.25H847.00zM849.33 662.91H851.67V686.25H849.33zM851.67 665.24H854.00V688.58H851.67zM854.00 665.24H856.33V688.58H854.00zM856.33 667.58H858.67V690.92H856.33zM858.67 669.91H861.00V693.25H858.67zM861.00 672.24H863.33V697.92H861.00zM863.33 674.58H865.67V700.25H863.33zM865.67 679.25H868.00V702.59H865.67zM868.00 681.58H870.33V702.59H868.00zM870.33 681.58H872.67V702.59H870.33zM872.67 683.91H875.00V702.59H872.67zM875.00 683.91H877.33V704.92H875.00zM877.33 686.25H879.67V704.92H877.33zM879.67 683.91H882.00V704.92H879.67zM882.00 683.91H884.33V707.26H882.00zM884.33 683.91H886.67V707.26H884.33zM886.67 686.25H889.00V707.26H886.67zM889.00 686.25H891.33V707.26H889.00zM891.33 686.25H893.67V709.59H891.33zM893.67 686.25H896.00V709.59H893.67zM896.00 686.25H898.33V709.59H896.00zM898.33 688.58H900.67V709.59H898.33zM900.67 690.92H903.00V709.59H900.67zM903.00 688.58H905.33V709.59H903.00zM905.33 688.58H907.67V711.93H905.33zM907.67 688.58H910.00V711.93H907.67zM910.00 688.58H912.33V714.26H910.00zM912.33 672.24H914.67V714.26H912.33zM914.67 597.55H917.00V714.26H914.67zM917.00 588.21H919.33V714.26H917.00zM919.33 585.88H921.67V714.26H919.33zM921.67 583.55H924.00V711.93H921.67zM924.00 583.55H926.33V707.26H924.00zM926.33 585.88H928.67V709.59H926.33zM928.67 588.21H931.00V714.26H928.67zM931.00 606.89H933.33V716.59H931.00zM933.33 690.92H935.67V718.93H933.33zM935.67 695.59H938.00V721.26H935.67zM938.00 697.92H940.33V721.26H938.00zM940.33 697.92H942.67V721.26H940.33zM942.67 697.92H945.00V723.60H942.67zM945.00 697.92H947.33V723.60H945.00zM947.33 700.25H949.67V721.26H947.33zM949.67 697.92H952.00V721.26H949.67zM952.00 695.59H954.33V718.93H952.00zM954.33 690.92H956.67V718.93H954.33zM956.67 686.25H959.00V716.59H956.67zM959.00 681.58H961.33V716.59H959.00zM961.33 679.25H963.67V714.26H961.33zM963.67 676.91H966.00V702.59H963.67zM963.67 707.26H966.00V709.59H963.67zM966.00 676.91H968.33V714.26H966.00zM968.33 676.91H970.67V716.59H968.33zM970.67 681.58H973.00V721.26H970.67zM973.00 688.58H975.33V723.60H973.00zM975.33 695.59H977.67V725.93H975.33zM977.67 702.59H980.00V728.26H977.67zM980.00 702.59H982.33V728.26H980.00zM982.33 704.92H984.67V728.26H982.33zM984.67 704.92H987.00V725.93H984.67zM987.00 702.59H989.33V725.93H987.00zM989.33 695.59H991.67V723.60H989.33zM991.67 693.25H994.00V721.26H991.67zM994.00 690.92H996.33V721.26H994.00zM996.33 690.92H998.67V721.26H996.33zM998.67 690.92H1001.00V716.59H998.67zM1001.00 690.92H1003.33V721.26H1001.00zM1003.33 690.92H1005.67V725.93H1003.33zM1005.67 695.59H1008.00V728.26H1005.67zM1008.00 697.92H1010.33V730.60H1008.00zM1010.33 707.26H1012.67V730.60H1010.33zM1012.67 704.92H1015.00V730.60H1012.67zM1015.00 702.59H1017.33V728.26H1015.00zM1017.33 700.25H1019.67V725.93H1017.33zM1019.67 700.25H1022.00V725.93H1019.67zM1022.00 702.59H1024.33V725.93H1022.00zM1024.33 704.92H1026.67V728.26H1024.33zM1026.67 709.59H1029.00V732.93H1026.67zM1029.00 709.59H1031.33V735.27H1029.00zM1031.33 709.59H1033.67V735.27H1031.33zM1033.67 709.59H1036.00V732.93H1033.67zM1036.00 709.59H1038.33V735.27H1036.00zM1038.33 711.93H1040.67V735.27H1038.33zM1040.67 714.26H1043.00V735.27H1040.67zM1043.00 714.26H1045.33V735.27H1043.00zM1045.33 714.26H1047.67V735.27H1045.33zM1047.67 714.26H1050.00V737.60H1047.67zM1050.00 716.59H1052.33V737.60H1050.00zM1052.33 716.59H1054.67V735.27H1052.33zM1054.67 716.59H1057.00V737.60H1054.67zM1057.00 714.26H1059.33V737.60H1057.00zM1059.33 714.26H1061.67V737.60H1059.33zM1061.67 714.26H1064.00V735.27H1061.67zM1064.00 714.26H1066.33V737.60H1064.00zM1066.33 716.59H1068.67V737.60H1066.33zM1068.67 711.93H1071.00V737.60H1068.67zM1071.00 704.92H1073.33V737.60H1071.00zM1073.33 702.59H1075.67V735.27H1073.33zM1075.67 700.25H1078.00V732.93H1075.67zM1078.00 700.25H1080.33V732.93H1078.00zM1080.33 702.59H1082.67V737.60H1080.33zM1082.67 704.92H1085.00V739.94H1082.67zM1085.00 709.59H1087.33V739.94H1085.00zM1087.33 716.59H1089.67V737.60H1087.33zM1089.67 716.59H1092.00V737.60H1089.67zM1092.00 718.93H1094.33V737.60H1092.00zM1094.33 721.26H1096.67V739.94H1094.33zM1096.67 721.26H1099.00V739.94H1096.67zM1099.00 718.93H1101.33V739.94H1099.00zM1101.33 716.59H1103.67V742.27H1101.33zM1103.67 718.93H1106.00V739.94H1103.67zM1106.00 718.93H1108.33V739.94H1106.00zM1108.33 716.59H1110.67V739.94H1108.33zM1110.67 716.59H1113.00V739.94H1110.67zM1113.00 716.59H1115.33V739.94H1113.00zM1115.33 718.93H1117.67V737.60H1115.33zM1117.67 718.93H1120.00V737.60H1117.67zM1120.00 716.59H1122.33V739.94H1120.00zM1122.33 716.59H1124.67V737.60H1122.33zM1124.67 716.59H1127.00V737.60H1124.67zM1127.00 716.59H1129.33V737.60H1127.00zM1129.33 716.59H1131.67V737.60H1129.33zM1131.67 718.93H1134.00V742.27H1131.67zM1134.00 721.26H1136.33V744.60H1134.00zM1136.33 723.60H1138.67V746.94H1136.33zM1138.67 723.60H1141.00V746.94H1138.67zM1141.00 723.60H1143.33V744.60H1141.00zM1143.33 725.93H1145.67V744.60H1143.33zM1145.67 725.93H1148.00V744.60H1145.67zM1148.00 728.26H1150.33V746.94H1148.00zM1150.33 728.26H1152.67V746.94H1150.33zM1152.67 728.26H1155.00V744.60H1152.67zM1155.00 725.93H1157.33V744.60H1155.00zM1157.33 723.60H1159.67V744.60H1157.33zM1159.67 721.26H1162.00V744.60H1159.67zM1162.00 721.26H1164.33V742.27H1162.00zM1164.33 718.93H1166.67V739.94H1164.33zM1166.67 718.93H1169.00V739.94H1166.67zM1169.00 718.93H1171.33V744.60H1169.00zM1171.33 721.26H1173.67V746.94H1171.33zM1173.67 723.60H1176.00V749.27H1173.67zM1176.00 725.93H1178.33V749.27H1176.00zM1178.33 728.26H1180.67V749.27H1178.33zM1180.67 730.60H1183.00V749.27H1180.67zM1183.00 730.60H1185.33V749.27H1183.00zM1185.33 730.60H1187.67V749.27H1185.33zM1187.67 730.60H1190.00V749.27H1187.67zM1190.00 730.60H1192.33V751.61H1190.00zM1192.33 730.60H1194.67V751.61H1192.33zM1194.67 730.60H1197.00V751.61H1194.67zM1197.00 732.93H1199.33V751.61H1197.00zM1199.33 732.93H1201.67V751.61H1199.33zM1201.67 732.93H1204.00V751.61H1201.67zM1204.00 730.60H1206.33V751.61H1204.00zM1206.33 728.26H1208.67V751.61H1206.33zM1208.67 721.26H1211.00V751.61H1208.67zM1211.00 718.93H1213.33V751.61H1211.00zM1213.33 716.59H1215.67V749.27H1213.33zM1215.67 714.26H1218.00V739.94H1215.67zM1218.00 714.26H1220.33V737.60H1218.00zM1220.33 716.59H1222.67V744.60H1220.33zM1222.67 716.59H1225.00V746.94H1222.67zM1225.00 718.93H1227.33V746.94H1225.00zM1227.33 721.26H1229.67V749.27H1227.33zM1229.67 728.26H1232.00V749.27H1229.67zM1232.00 730.60H1234.33V751.61H1232.00zM1234.33 732.93H1236.67V753.94H1234.33zM1236.67 735.27H1239.00V753.94H1236.67zM1239.00 732.93H1241.33V753.94H1239.00zM1241.33 735.27H1243.67V753.94H1241.33zM1243.67 735.27H1246.00V758.61H1243.67zM1246.00 737.60H1248.33V758.61H1246.00zM1248.33 737.60H1250.67V760.94H1248.33zM1250.67 737.60H1253.00V758.61H1250.67zM1253.00 739.94H1255.33V758.61H1253.00zM1255.33 737.60H1257.67V760.94H1255.33zM1257.67 737.60H1260.00V763.28H1257.67zM1260.00 737.60H1262.33V765.61H1260.00zM1262.33 737.60H1264.67V765.61H1262.33zM1264.67 739.94H1267.00V765.61H1264.67zM1267.00 742.27H1269.33V765.61H1267.00zM1269.33 739.94H1271.67V765.61H1269.33zM1271.67 700.25H1274.00V763.28H1271.67zM1274.00 695.59H1276.33V763.28H1274.00zM1276.33 693.25H1278.67V760.94H1276.33zM1278.67 690.92H1281.00V756.27H1278.67zM1281.00 690.92H1283.33V756.27H1281.00zM1283.33 693.25H1285.67V758.61H1283.33zM1285.67 697.92H1288.00V758.61H1285.67zM1288.00 704.92H1290.33V758.61H1288.00zM1290.33 742.27H1292.67V760.94H1290.33zM1292.67 744.60H1295.00V763.28H1292.67zM1295.00 744.60H1297.33V763.28H1295.00zM1297.33 744.60H1299.67V763.28H1297.33zM1299.67 742.27H1302.00V763.28H1299.67zM1302.00 742.27H1304.33V763.28H1302.00zM1304.33 742.27H1306.67V763.28H1304.33zM1306.67 744.60H1309.00V763.28H1306.67zM1309.00 744.60H1311.33V763.28H1309.00zM1311.33 744.60H1313.67V763.28H1311.33zM1313.67 744.60H1316.00V765.61H1313.67zM1316.00 744.60H1318.33V765.61H1316.00zM1318.33 744.60H1320.67V763.28H1318.33zM1320.67 744.60H1323.00V763.28H1320.67zM1323.00 744.60H1325.33V763.28H1323.00zM1325.33 744.60H1327.67V763.28H1325.33zM1327.67 746.94H1330.00V765.61H1327.67zM1330.00 746.94H1332.33V765.61H1330.00zM1332.33 746.94H1334.67V765.61H1332.33zM1334.67 744.60H1337.00V765.61H1334.67zM1337.00 735.27H1339.33V765.61H1337.00zM1339.33 728.26H1341.67V760.94H1339.33zM1341.67 723.60H1344.00V758.61H1341.67zM1344.00 721.26H1346.33V756.27H1344.00zM1346.33 721.26H1348.67V749.27H1346.33zM1348.67 721.26H1351.00V753.94H1348.67zM1351.00 723.60H1353.33V758.61H1351.00zM1353.33 725.93H1355.67V763.28H1353.33zM1355.67 728.26H1358.00V765.61H1355.67zM1358.00 737.60H1360.33V767.95H1358.00zM1360.33 744.60H1362.67V767.95H1360.33zM1362.67 746.94H1365.00V767.95H1362.67zM1365.00 751.61H1367.33V767.95H1365.00zM1367.33 751.61H1369.67V767.95H1367.33zM1369.67 751.61H1372.00V767.95H1369.67zM1372.00 751.61H1374.33V770.28H1372.00zM1374.33 749.27H1376.67V772.61H1374.33zM1376.67 749.27H1379.00V774.95H1376.67zM1379.00 749.27H1381.33V774.95H1379.00zM1381.33 751.61H1383.67V774.95H1381.33zM1383.67 751.61H1386.00V772.61H1383.67zM1386.00 751.61H1388.33V770.28H1386.00zM1388.33 751.61H1390.67V770.28H1388.33zM1390.67 751.61H1393.00V770.28H1390.67zM1393.00 749.27H1395.33V770.28H1393.00zM1395.33 744.60H1397.67V770.28H1395.33zM1397.67 730.60H1400.00V767.95H1397.67zM1400.00 716.59H1402.33V765.61H1400.00zM1402.33 711.93H1404.67V760.94H1402.33zM1404.67 709.59H1407.00V756.27H1404.67zM1407.00 709.59H1409.33V746.94H1407.00zM1409.33 709.59H1411.67V742.27H1409.33zM1411.67 709.59H1414.00V756.27H1411.67zM1414.00 711.93H1416.33V760.94H1414.00zM1416.33 714.26H1418.67V765.61H1416.33zM1418.67 725.93H1421.00V767.95H1418.67zM1421.00 735.27H1423.33V767.95H1421.00zM1423.33 744.60H1425.67V770.28H1423.33zM1425.67 751.61H1428.00V772.61H1425.67zM1428.00 753.94H1430.33V772.61H1428.00zM1430.33 753.94H1432.67V772.61H1430.33zM1432.67 753.94H1435.00V772.61H1432.67zM1435.00 756.27H1437.33V772.61H1435.00zM1437.33 753.94H1439.67V772.61H1437.33zM1439.67 753.94H1442.00V772.61H1439.67zM1442.00 753.94H1444.33V772.61H1442.00zM1444.33 753.94H1446.67V772.61H1444.33zM1446.67 753.94H1449.00V772.61H1446.67zM1449.00 751.61H1451.33V772.61H1449.00zM1451.33 751.61H1453.67V770.28H1451.33zM1453.67 751.61H1456.00V770.28H1453.67zM1456.00 751.61H1458.33V770.28H1456.00zM1458.33 744.60H1460.67V770.28H1458.33zM1460.67 737.60H1463.00V770.28H1460.67zM1463.00 735.27H1465.33V767.95H1463.00zM1465.33 730.60H1467.67V765.61H1465.33zM1467.67 728.26H1470.00V756.27H1467.67zM1470.00 728.26H1472.33V753.94H1470.00zM1472.33 730.60H1474.67V756.27H1472.33zM1474.67 730.60H1477.00V765.61H1474.67zM1477.00 732.93H1479.33V767.95H1477.00zM1479.33 739.94H1481.67V770.28H1479.33zM1481.67 746.94H1484.00V772.61H1481.67zM1484.00 751.61H1486.33V772.61H1484.00zM1486.33 756.27H1488.67V774.95H1486.33zM1488.67 758.61H1491.00V777.28H1488.67zM1491.00 758.61H1493.33V777.28H1491.00zM1493.33 758.61H1495.67V774.95H1493.33zM1495.67 758.61H1498.00V777.28H1495.67zM1498.00 758.61H1500.33V779.62H1498.00zM1500.33 758.61H1502.67V779.62H1500.33zM1502.67 758.61H1505.00V779.62H1502.67zM1505.00 758.61H1507.33V777.28H1505.00zM1507.33 758.61H1509.67V774.95H1507.33zM1509.67 758.61H1512.00V777.28H1509.67zM1512.00 758.61H1514.33V777.28H1512.00zM1514.33 756.27H1516.67V777.28H1514.33zM1516.67 756.27H1519.00V774.95H1516.67zM1519.00 756.27H1521.33V774.95H1519.00zM1521.33 758.61H1523.67V777.28H1521.33zM1523.67 758.61H1526.00V774.95H1523.67zM1526.00 756.27H1528.33V774.95H1526.00zM1528.33 751.61H1530.67V777.28H1528.33zM1530.67 746.94H1533.00V774.95H1530.67zM1533.00 744.60H1535.33V772.61H1533.00zM1535.33 742.27H1537.67V770.28H1535.33zM1537.67 742.27H1540.00V765.61H1537.67zM1540.00 742.27H1542.33V763.28H1540.00zM1542.33 744.60H1544.67V770.28H1542.33zM1544.67 746.94H1547.00V772.61H1544.67zM1547.00 749.27H1549.33V772.61H1547.00zM1549.33 753.94H1551.67V774.95H1549.33zM1551.67 756.27H1554.00V777.28H1551.67zM1554.00 756.27H1556.33V777.28H1554.00zM1556.33 756.27H1558.67V777.28H1556.33zM1558.67 756.27H1561.00V777.28H1558.67zM1561.00 756.27H1563.33V774.95H1561.00zM1563.33 758.61H1565.67V777.28H1563.33zM1565.67 758.61H1568.00V777.28H1565.67zM1568.00 756.27H1570.33V777.28H1568.00zM1570.33 756.27H1572.67V774.95H1570.33zM1572.67 756.27H1575.00V774.95H1572.67zM1575.00 751.61H1577.33V774.95H1575.00zM1577.33 751.61H1579.67V774.95H1577.33zM1579.67 749.27H1582.00V772.61H1579.67zM1582.00 749.27H1584.33V770.28H1582.00zM1584.33 746.94H1586.67V770.28H1584.33zM1586.67 749.27H1589.00V772.61H1586.67zM1589.00 749.27H1591.33V774.95H1589.00zM1591.33 753.94H1593.67V777.28H1591.33zM1593.67 758.61H1596.00V777.28H1593.67zM1596.00 758.61H1598.33V777.28H1596.00zM1598.33 758.61H1600.67V777.28H1598.33zM1600.67 760.94H1603.00V777.28H1600.67zM1603.00 758.61H1605.33V777.28H1603.00zM1605.33 758.61H1607.67V777.28H1605.33zM1607.67 758.61H1610.00V777.28H1607.67zM1610.00 758.61H1612.33V777.28H1610.00zM1612.33 758.61H1614.67V777.28H1612.33zM1614.67 760.94H1617.00V777.28H1614.67zM1617.00 758.61H1619.33V777.28H1617.00zM1619.33 756.27H1621.67V777.28H1619.33zM1621.67 756.27H1624.00V779.62H1621.67zM1624.00 756.27H1626.33V779.62H1624.00zM1626.33 758.61H1628.67V779.62H1626.33zM1628.67 760.94H1631.00V779.62H1628.67zM1631.00 760.94H1633.33V779.62H1631.00zM1633.33 760.94H1635.67V779.62H1633.33zM1635.67 760.94H1638.00V779.62H1635.67zM1638.00 760.94H1640.33V777.28H1638.00zM1640.33 758.61H1642.67V777.28H1640.33zM1642.67 758.61H1645.00V779.62H1642.67zM1645.00 758.61H1647.33V779.62H1645.00zM1647.33 760.94H1649.67V779.62H1647.33zM1649.67 760.94H1652.00V779.62H1649.67zM1652.00 763.28H1654.33V779.62H1652.00zM1654.33 763.28H1656.67V781.95H1654.33zM1656.67 763.28H1659.00V781.95H1656.67zM1659.00 763.28H1661.33V781.95H1659.00zM1661.33 763.28H1663.67V781.95H1661.33zM1663.67 763.28H1666.00V781.95H1663.67zM1666.00 763.28H1668.33V781.95H1666.00zM1668.33 760.94H1670.67V781.95H1668.33zM1670.67 760.94H1673.00V781.95H1670.67zM1673.00 763.28H1675.33V781.95H1673.00zM1675.33 765.61H1677.67V781.95H1675.33zM1677.67 765.61H1680.00V781.95H1677.67zM1680.00 765.61H1682.33V784.28H1680.00zM1682.33 765.61H1684.67V786.62H1682.33zM1684.67 765.61H1687.00V786.62H1684.67zM1687.00 765.61H1689.33V786.62H1687.00zM1689.33 767.95H1691.67V784.28H1689.33zM1691.67 767.95H1694.00V781.95H1691.67zM1694.00 767.95H1696.33V784.28H1694.00zM1696.33 765.61H1698.67V786.62H1696.33zM1698.67 767.95H1701.00V786.62H1698.67zM1701.00 767.95H1703.33V786.62H1701.00zM1703.33 767.95H1705.67V784.28H1703.33zM1705.67 767.95H1708.00V784.28H1705.67zM1708.00 767.95H1710.33V786.62H1708.00zM1710.33 767.95H1712.67V786.62H1710.33zM1712.67 767.95H1715.00V786.62H1712.67zM1715.00 767.95H1717.33V786.62H1715.00zM1717.33 767.95H1719.67V786.62H1717.33zM1719.67 767.95H1722.00V786.62H1719.67zM1722.00 767.95H1724.33V786.62H1722.00zM1724.33 765.61H1726.67V788.95H1724.33zM1726.67 765.61H1729.00V788.95H1726.67zM1729.00 765.61H1731.33V786.62H1729.00zM1731.33 765.61H1733.67V784.28H1731.33zM1733.67 763.28H1736.00V781.95H1733.67zM1736.00 760.94H1738.33V779.62H1736.00zM1738.33 760.94H1740.67V777.28H1738.33zM1740.67 758.61H1743.00V777.28H1740.67zM1743.00 758.61H1745.33V777.28H1743.00zM1745.33 758.61H1747.67V779.62H1745.33zM1747.67 758.61H1750.00V781.95H1747.67zM1750.00 760.94H1752.33V781.95H1750.00zM1752.33 765.61H1754.67V781.95H1752.33zM1754.67 767.95H1757.00V784.28H1754.67zM1757.00 770.28H1759.33V786.62H1757.00zM1759.33 770.28H1761.67V788.95H1759.33zM1761.67 770.28H1764.00V788.95H1761.67zM1764.00 770.28H1766.33V788.95H1764.00zM1766.33 770.28H1768.67V786.62H1766.33zM1768.67 767.95H1771.00V786.62H1768.67zM1771.00 770.28H1773.33V786.62H1771.00zM1773.33 770.28H1775.67V786.62H1773.33zM1775.67 770.28H1778.00V788.95H1775.67zM1778.00 772.61H1780.33V786.62H1778.00zM1780.33 772.61H1782.67V786.62H1780.33zM1782.67 772.61H1785.00V786.62H1782.67zM1785.00 772.61H1787.33V788.95H1785.00zM1787.33 772.61H1789.67V788.95H1787.33zM1789.67 770.28H1792.00V786.62H1789.67zM1792.00 770.28H1794.33V786.62H1792.00zM1794.33 770.28H1796.67V788.95H1794.33zM1796.67 770.28H1799.00V788.95H1796.67zM1799.00 770.28H1801.33V788.95H1799.00zM1801.33 770.28H1803.67V788.95H1801.33zM1803.67 770.28H1806.00V788.95H1803.67zM1806.00 770.28H1808.33V791.29H1806.00zM1808.33 772.61H1810.67V788.95H1808.33zM1810.67 770.28H1813.00V786.62H1810.67zM1813.00 770.28H1815.33V788.95H1813.00zM1815.33 770.28H1817.67V788.95H1815.33zM1817.67 770.28H1820.00V788.95H1817.67zM1820.00 770.28H1822.33V788.95H1820.00zM1822.33 770.28H1824.67V788.95H1822.33zM1824.67 770.28H1827.00V788.95H1824.67zM1827.00 770.28H1829.33V791.29H1827.00zM1829.33 770.28H1831.67V791.29H1829.33zM1831.67 772.61H1834.00V788.95H1831.67zM1834.00 772.61H1836.33V788.95H1834.00zM1836.33 770.28H1838.67V788.95H1836.33zM1838.67 770.28H1841.00V786.62H1838.67zM1841.00 770.28H1843.33V786.62H1841.00zM1843.33 765.61H1845.67V786.62H1843.33zM1845.67 763.28H1848.00V784.28H1845.67zM1848.00 760.94H1850.33V784.28H1848.00zM1850.33 760.94H1852.67V781.95H1850.33zM1852.67 758.61H1855.00V777.28H1852.67zM1855.00 758.61H1857.33V779.62H1855.00zM1857.33 758.61H1859.67V784.28H1857.33zM1859.67 758.61H1862.00V784.28H1859.67zM1862.00 760.94H1864.33V786.62H1862.00zM1864.33 767.95H1866.67V786.62H1864.33zM1866.67 770.28H1869.00V788.95H1866.67zM1869.00 772.61H1871.33V791.29H1869.00zM1871.33 772.61H1873.67V791.29H1871.33zM1873.67 770.28H1876.00V791.29H1873.67zM1876.00 770.28H1878.33V791.29H1876.00zM1878.33 772.61H1880.67V791.29H1878.33zM1880.67 772.61H1883.00V791.29H1880.67zM1883.00 772.61H1885.33V793.62H1883.00zM1885.33 772.61H1887.67V793.62H1885.33zM1887.67 772.61H1890.00V791.29H1887.67zM1890.00 772.61H1892.33V788.95H1890.00zM1892.33 772.61H1894.67V788.95H1892.33zM1894.67 774.95H1897.00V788.95H1894.67zM1897.00 774.95H1899.33V788.95H1897.00zM1899.33 772.61H1901.67V791.29H1899.33zM1901.67 774.95H1904.00V791.29H1901.67zM1904.00 774.95H1906.33V791.29H1904.00zM1906.33 774.95H1908.67V791.29H1906.33zM1908.67 774.95H1911.00V791.29H1908.67zM1911.00 774.95H1913.33V791.29H1911.00zM1913.33 774.95H1915.67V791.29H1913.33zM1915.67 774.95H1918.00V793.62H1915.67zM1918.00 774.95H1920.33V793.62H1918.00zM1920.33 774.95H1922.67V793.62H1920.33zM1922.67 772.61H1925.00V791.29H1922.67zM1925.00 772.61H1927.33V791.29H1925.00zM1927.33 772.61H1929.67V793.62H1927.33zM1929.67 774.95H1932.00V793.62H1929.67zM1932.00 774.95H1934.33V793.62H1932.00zM1934.33 774.95H1936.67V793.62H1934.33zM1936.67 774.95H1939.00V793.62H1936.67zM1939.00 774.95H1941.33V793.62H1939.00zM1941.33 774.95H1943.67V793.62H1941.33zM1943.67 774.95H1946.00V795.96H1943.67zM1946.00 774.95H1948.33V798.29H1946.00zM1948.33 774.95H1950.67V795.96H1948.33zM1950.67 774.95H1953.00V795.96H1950.67zM1953.00 774.95H1955.33V795.96H1953.00zM1955.33 777.28H1957.67V795.96H1955.33zM1957.67 777.28H1960.00V793.62H1957.67zM1960.00 777.28H1962.33V793.62H1960.00zM1962.33 777.28H1964.67V793.62H1962.33zM1964.67 774.95H1967.00V793.62H1964.67zM1967.00 774.95H1969.33V793.62H1967.00zM1969.33 777.28H1971.67V793.62H1969.33zM1971.67 777.28H1974.00V793.62H1971.67zM1974.00 777.28H1976.33V795.96H1974.00zM1976.33 777.28H1978.67V795.96H1976.33zM1978.67 779.62H1981.00V795.96H1978.67zM1981.00 777.28H1983.33V795.96H1981.00zM1983.33 777.28H1985.67V795.96H1983.33zM1985.67 777.28H1988.00V793.62H1985.67zM1988.00 777.28H1990.33V793.62H1988.00zM1990.33 779.62H1992.67V793.62H1990.33zM1992.67 779.62H1995.00V795.96H1992.67zM1995.00 777.28H1997.33V795.96H1995.00zM1997.33 777.28H1999.67V795.96H1997.33zM1999.67 777.28H2002.00V793.62H1999.67zM2002.00 777.28H2004.33V795.96H2002.00zM2004.33 777.28H2006.67V795.96H2004.33zM2006.67 779.62H2009.00V798.29H2006.67zM2009.00 779.62H2011.33V798.29H2009.00zM2011.33 779.62H2013.67V795.96H2011.33zM2013.67 779.62H2016.00V793.62H2013.67zM2016.00 779.62H2018.33V795.96H2016.00zM2018.33 779.62H2020.67V795.96H2018.33zM2020.67 779.62H2023.00V798.29H2020.67zM2023.00 779.62H2025.33V795.96H2023.00zM2025.33 779.62H2027.67V795.96H2025.33zM2027.67 779.62H2030.00V798.29H2027.67zM2030.00 779.62H2032.33V795.96H2030.00zM2032.33 779.62H2034.67V798.29H2032.33zM2034.67 779.62H2037.00V798.29H2034.67zM2037.00 781.95H2039.33V798.29H2037.00zM2039.33 781.95H2041.67V795.96H2039.33zM2041.67 781.95H2044.00V798.29H2041.67zM2044.00 781.95H2046.33V798.29H2044.00zM2046.33 779.62H2048.67V798.29H2046.33zM2048.67 779.62H2051.00V798.29H2048.67zM2051.00 779.62H2053.33V798.29H2051.00zM2053.33 779.62H2055.67V798.29H2053.33zM2055.67 779.62H2058.00V798.29H2055.67zM2058.00 779.62H2060.33V795.96H2058.00zM2060.33 779.62H2062.67V795.96H2060.33zM2062.67 779.62H2065.00V795.96H2062.67zM2065.00 781.95H2067.33V793.62H2065.00zM2067.33 784.28H2069.67V791.29H2067.33zM2069.67 788.95H2072.00V791.29H2069.67z"/>
</g>
<rect x="1192.3" y="38.5" width="869.2" height="441" fill="#ffffff" stroke="#000" stroke-width="2"/>
<g stroke="#000" stroke-width="7.0" fill="none">
<line x1="216.5" y1="34.7" x2="2069.0" y2="34.7"/>
<line x1="216.5" y1="1517.5" x2="2069.0" y2="1517.5"/>
<line x1="220.0" y1="34.7" x2="220.0" y2="1549.3"/>
<line x1="2065.5" y1="34.7" x2="2065.5" y2="1546.8"/>
<line x1="351.8" y1="1517.5" x2="351.8" y2="1534.7"/>
<line x1="483.6" y1="1517.5" x2="483.6" y2="1549"/>
<line x1="615.5" y1="1517.5" x2="615.5" y2="1534.7"/>
<line x1="747.3" y1="1517.5" x2="747.3" y2="1549"/>
<line x1="879.1" y1="1517.5" x2="879.1" y2="1534.7"/>
<line x1="1010.9" y1="1517.5" x2="1010.9" y2="1549"/>
<line x1="1142.8" y1="1517.5" x2="1142.8" y2="1534.7"/>
<line x1="1274.6" y1="1517.5" x2="1274.6" y2="1549"/>
<line x1="1406.4" y1="1517.5" x2="1406.4" y2="1534.7"/>
<line x1="1538.2" y1="1517.5" x2="1538.2" y2="1549"/>
<line x1="1670.0" y1="1517.5" x2="1670.0" y2="1534.7"/>
<line x1="1801.9" y1="1517.5" x2="1801.9" y2="1549"/>
<line x1="1933.7" y1="1517.5" x2="1933.7" y2="1534.7"/>
</g>
<text transform="translate(218.50,1635.60) scale(1.0490,1.0200)" font-size="90.50" text-anchor="middle">10</text>
<text transform="translate(483.64,1635.60) scale(1.0490,1.0200)" font-size="90.50" text-anchor="middle">20</text>
<text transform="translate(747.29,1635.60) scale(1.0490,1.0200)" font-size="90.50" text-anchor="middle">30</text>
<text transform="translate(1010.93,1635.60) scale(1.0490,1.0200)" font-size="90.50" text-anchor="middle">40</text>
<text transform="translate(1274.57,1635.60) scale(1.0490,1.0200)" font-size="90.50" text-anchor="middle">50</text>
<text transform="translate(1538.21,1635.60) scale(1.0490,1.0200)" font-size="90.50" text-anchor="middle">60</text>
<text transform="translate(1801.86,1635.60) scale(1.0490,1.0200)" font-size="90.50" text-anchor="middle">70</text>
<text transform="translate(2065.50,1635.60) scale(1.0490,1.0200)" font-size="90.50" text-anchor="middle">80</text>
<text transform="translate(1140.60,1792.20) scale(1.0040,1.0000)" font-size="98.50" text-anchor="middle">2 Theta (deg)</text>
<text transform="translate(98.60,743.20) rotate(-90) scale(1.0000,1.0200)" font-size="98.50" text-anchor="middle">Intensity (a. u.)</text>
<line x1="1202" y1="92.0" x2="1374" y2="92.0" stroke="#008000" stroke-width="12" stroke-linecap="round"/>
<line x1="1202" y1="211.8" x2="1374" y2="211.8" stroke="#ff00ff" stroke-width="12" stroke-linecap="round"/>
<line x1="1202" y1="329.0" x2="1374" y2="329.0" stroke="#000080" stroke-width="12" stroke-linecap="round"/>
<line x1="1202" y1="425.0" x2="1374" y2="425.0" stroke="#000000" stroke-width="12" stroke-linecap="round"/>
<text transform="translate(1395.80,119.00) scale(1.0064,1.0500)" font-size="76.80" text-anchor="start">Ag<tspan font-size="43.0" dy="23.5">3</tspan><tspan dy="-23.5" dx="2.5">PO</tspan><tspan font-size="43.0" dy="23.5">4</tspan><tspan dy="-23.5" dx="0.3">-FA/PU NFs</tspan></text>
<text transform="translate(1394.50,236.00) scale(1.0064,1.0500)" font-size="76.80" text-anchor="start">AgNO<tspan font-size="43.0" dy="26">3</tspan><tspan dy="-26" dx="0.3">-FA/PU NFs</tspan></text>
<text transform="translate(1394.00,353.00) scale(1.0065,1.0500)" font-size="76.80" text-anchor="start">FA/PU NFs</text>
<text transform="translate(1394.00,449.60) scale(1.0100,1.0500)" font-size="76.80" text-anchor="start">PU NFs</text>
</svg>
</body>
</html>
